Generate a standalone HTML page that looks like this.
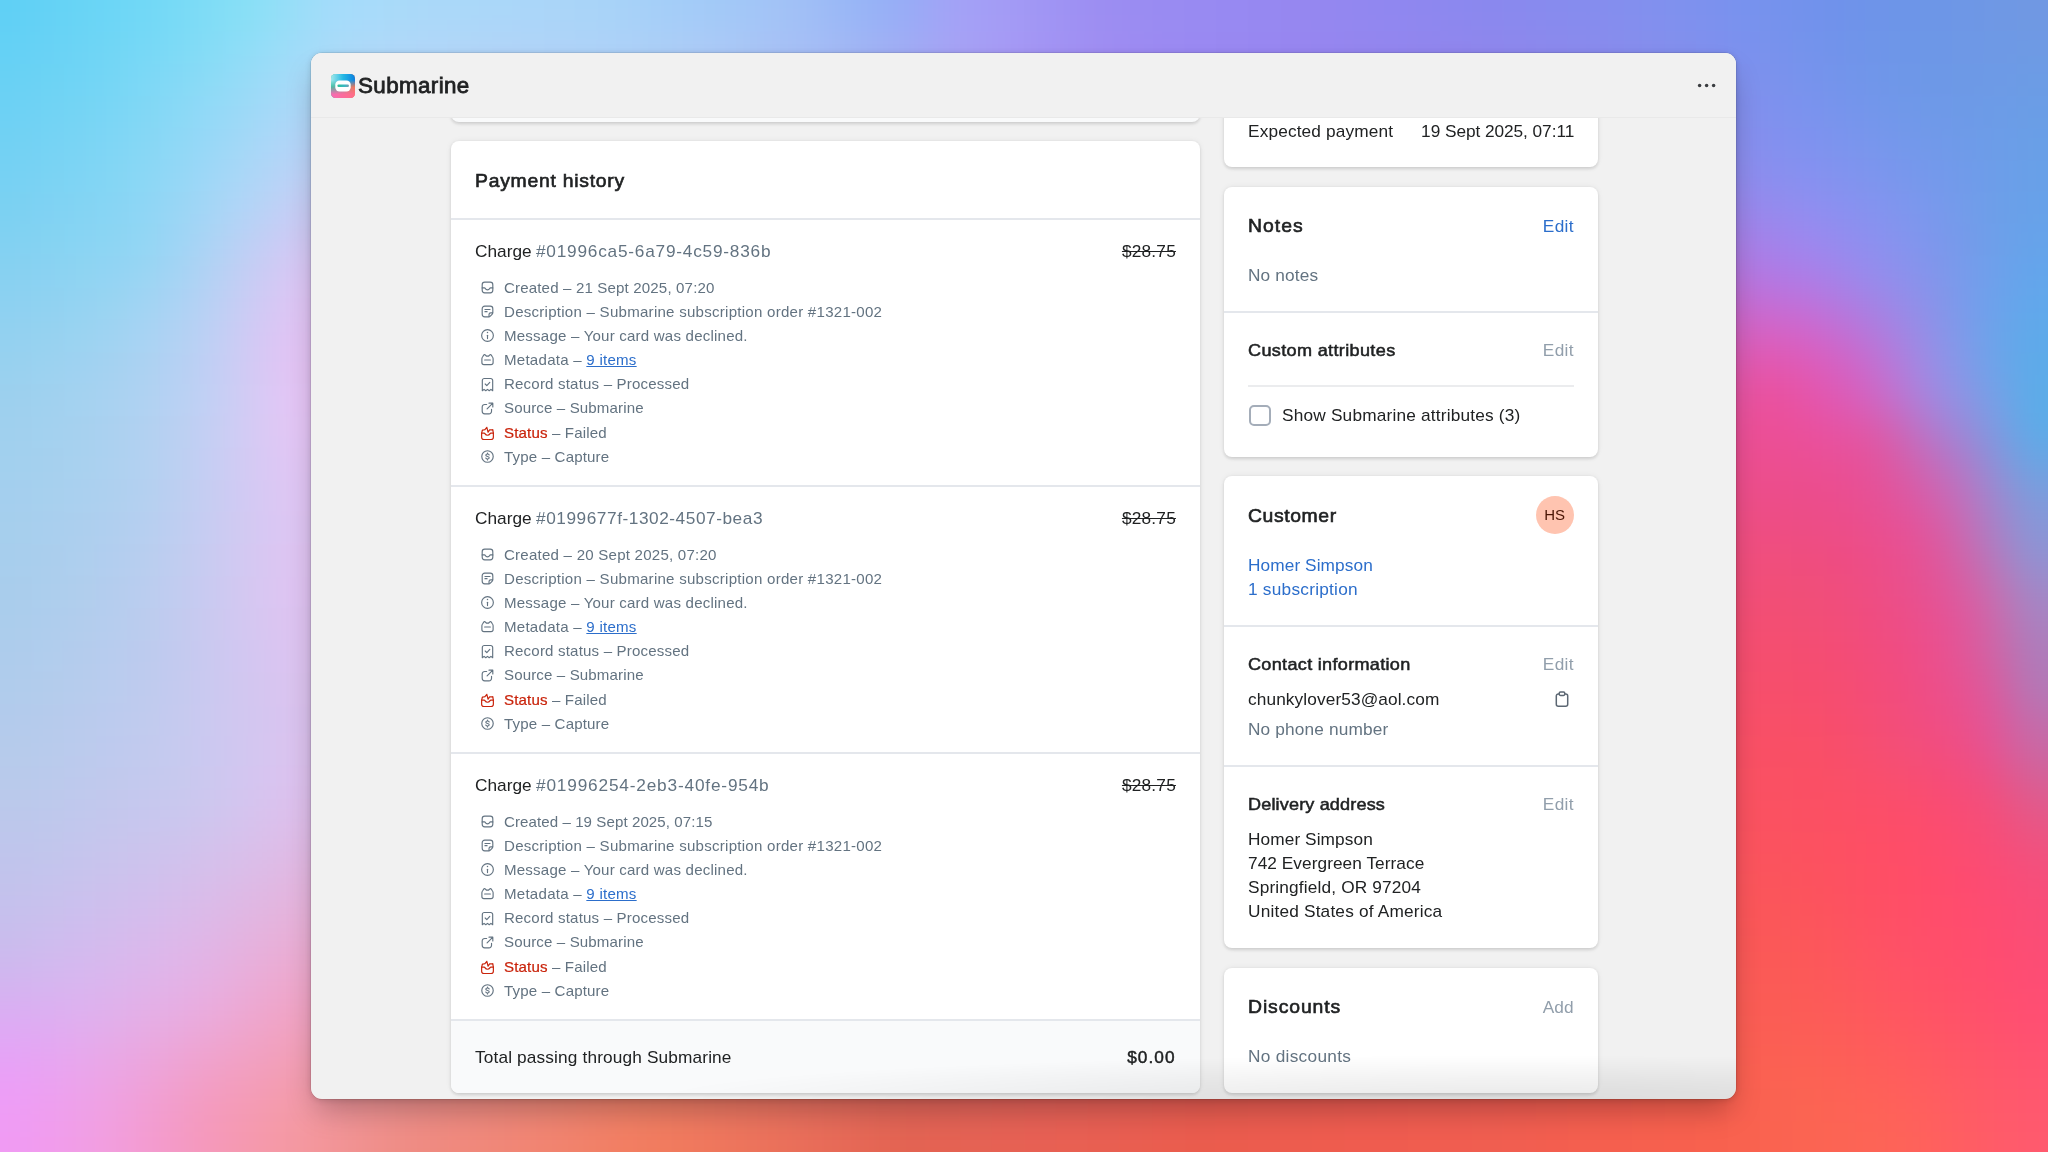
<!DOCTYPE html>
<html><head><meta charset="utf-8"><title>Submarine</title>
<style>
html,body{margin:0;padding:0;width:2048px;height:1152px;overflow:hidden;background:#c9b8e8;font-family:"Liberation Sans",sans-serif;}
#bg{position:absolute;left:0;top:0;width:2048px;height:1152px;overflow:hidden;}
#win{position:absolute;left:311px;top:53px;width:1425px;height:1045.5px;border-radius:11px;background:#f1f1f1;overflow:hidden;}
#winsh{position:absolute;left:311px;top:53px;width:1425px;height:1045.5px;border-radius:11px;box-shadow:0 0 0 0.5px rgba(0,0,0,.14),0 16px 30px -6px rgba(0,0,0,.27),0 1px 6px rgba(0,0,0,.14);}
#hdr{will-change:transform;position:absolute;left:0;top:0;width:100%;height:65px;background:#f1f1f1;border-bottom:1px solid #e9e9e9;box-sizing:border-box;z-index:5;}
#content{will-change:transform;position:absolute;left:0;top:65px;width:100%;height:980.5px;overflow:hidden;}
#fade{position:absolute;left:0;bottom:0;width:100%;height:46px;background:radial-gradient(ellipse 860px 44px at 84% 100%,rgba(0,0,0,.085),rgba(0,0,0,.05) 45%,rgba(0,0,0,0) 100%);z-index:6;pointer-events:none;}
.t{position:absolute;white-space:nowrap;}
.ic{position:absolute;display:block;overflow:visible;}
.hl{position:absolute;}
.card{position:absolute;background:#fff;border-radius:8px;box-shadow:0 0 6px rgba(23,24,24,.06),0 1.5px 3.5px rgba(0,0,0,.13);}
.foot{position:absolute;background:#f9fafb;border-radius:0 0 8px 8px;}
.cb{position:absolute;width:21.2px;height:21.2px;box-sizing:border-box;border:2.1px solid #a4adb9;border-radius:5px;background:#fff;}
.av{position:absolute;width:38px;height:38px;border-radius:50%;background:#ffc4b0;color:#4a1504;font-size:15px;line-height:38px;text-align:center;}
#logo{position:absolute;left:19.90px;top:20.70px;width:24px;height:24px;}
#dots{position:absolute;left:1386.00px;top:29.80px;}
</style></head>
<body>
<div id="bg"><svg width="2048" height="1152" viewBox="0 0 2048 1152" style="position:absolute;left:0;top:0"><defs><filter id="bgb" x="-5%" y="-5%" width="110%" height="110%" color-interpolation-filters="sRGB"><feGaussianBlur stdDeviation="18" edgeMode="duplicate"/></filter></defs><g filter="url(#bgb)"><rect x="-130" y="-130" width="2308" height="1412" fill="#d080c0"/><rect x="-120" y="-120" width="153" height="153" fill="#60d0f5"/><rect x="32" y="-120" width="33" height="153" fill="#64d2f5"/><rect x="64" y="-120" width="33" height="153" fill="#68d4f5"/><rect x="96" y="-120" width="33" height="153" fill="#6cd6f6"/><rect x="128" y="-120" width="33" height="153" fill="#71d8f6"/><rect x="160" y="-120" width="33" height="153" fill="#77daf6"/><rect x="192" y="-120" width="33" height="153" fill="#7fdcf6"/><rect x="224" y="-120" width="33" height="153" fill="#86dff6"/><rect x="256" y="-120" width="33" height="153" fill="#90dff7"/><rect x="288" y="-120" width="33" height="153" fill="#9cddf9"/><rect x="320" y="-120" width="33" height="153" fill="#a4dcfa"/><rect x="352" y="-120" width="33" height="153" fill="#a7dbfa"/><rect x="384" y="-120" width="33" height="153" fill="#a9daf9"/><rect x="416" y="-120" width="33" height="153" fill="#aad8f9"/><rect x="448" y="-120" width="33" height="153" fill="#aad8f9"/><rect x="480" y="-120" width="33" height="153" fill="#aad7f9"/><rect x="512" y="-120" width="33" height="153" fill="#aad6f9"/><rect x="544" y="-120" width="33" height="153" fill="#aad5f8"/><rect x="576" y="-120" width="33" height="153" fill="#a9d4f8"/><rect x="608" y="-120" width="33" height="153" fill="#a7d2f8"/><rect x="640" y="-120" width="33" height="153" fill="#a5cff8"/><rect x="672" y="-120" width="33" height="153" fill="#a3ccf8"/><rect x="704" y="-120" width="33" height="153" fill="#a2c9f7"/><rect x="736" y="-120" width="33" height="153" fill="#a2c6f7"/><rect x="768" y="-120" width="33" height="153" fill="#a2c2f6"/><rect x="800" y="-120" width="33" height="153" fill="#9fbdf6"/><rect x="832" y="-120" width="33" height="153" fill="#98b7f6"/><rect x="864" y="-120" width="33" height="153" fill="#97b1f6"/><rect x="896" y="-120" width="33" height="153" fill="#97abf6"/><rect x="928" y="-120" width="33" height="153" fill="#a2a4f6"/><rect x="960" y="-120" width="33" height="153" fill="#a49ff6"/><rect x="992" y="-120" width="33" height="153" fill="#a39bf5"/><rect x="1024" y="-120" width="33" height="153" fill="#a096f4"/><rect x="1056" y="-120" width="33" height="153" fill="#9e91f3"/><rect x="1088" y="-120" width="33" height="153" fill="#9c8df2"/><rect x="1120" y="-120" width="33" height="153" fill="#9a8cf2"/><rect x="1152" y="-120" width="33" height="153" fill="#998bf2"/><rect x="1184" y="-120" width="33" height="153" fill="#988af2"/><rect x="1216" y="-120" width="33" height="153" fill="#9789f2"/><rect x="1248" y="-120" width="33" height="153" fill="#9688f1"/><rect x="1280" y="-120" width="33" height="153" fill="#9687f0"/><rect x="1312" y="-120" width="33" height="153" fill="#9487f0"/><rect x="1344" y="-120" width="33" height="153" fill="#9287f0"/><rect x="1376" y="-120" width="33" height="153" fill="#9087f0"/><rect x="1408" y="-120" width="33" height="153" fill="#8e87ef"/><rect x="1440" y="-120" width="33" height="153" fill="#8c88ef"/><rect x="1472" y="-120" width="33" height="153" fill="#8a88ee"/><rect x="1504" y="-120" width="33" height="153" fill="#8989ee"/><rect x="1536" y="-120" width="33" height="153" fill="#878bee"/><rect x="1568" y="-120" width="33" height="153" fill="#868cee"/><rect x="1600" y="-120" width="33" height="153" fill="#848eee"/><rect x="1632" y="-120" width="33" height="153" fill="#8290ee"/><rect x="1664" y="-120" width="33" height="153" fill="#7f91ee"/><rect x="1696" y="-120" width="33" height="153" fill="#7c91ee"/><rect x="1728" y="-120" width="33" height="153" fill="#7892ee"/><rect x="1760" y="-120" width="33" height="153" fill="#7592ed"/><rect x="1792" y="-120" width="33" height="153" fill="#7292ec"/><rect x="1824" y="-120" width="33" height="153" fill="#6f92eb"/><rect x="1856" y="-120" width="33" height="153" fill="#6e94e9"/><rect x="1888" y="-120" width="33" height="153" fill="#6d95e8"/><rect x="1920" y="-120" width="33" height="153" fill="#6d96e7"/><rect x="1952" y="-120" width="33" height="153" fill="#6e97e6"/><rect x="1984" y="-120" width="33" height="153" fill="#6f98e4"/><rect x="2016" y="-120" width="152" height="153" fill="#7098e3"/><rect x="-120" y="32" width="153" height="33" fill="#64d1f5"/><rect x="32" y="32" width="33" height="33" fill="#68d2f5"/><rect x="64" y="32" width="33" height="33" fill="#6cd4f5"/><rect x="96" y="32" width="33" height="33" fill="#71d6f5"/><rect x="128" y="32" width="33" height="33" fill="#76d8f6"/><rect x="160" y="32" width="33" height="33" fill="#7ddaf6"/><rect x="192" y="32" width="33" height="33" fill="#85dcf6"/><rect x="224" y="32" width="33" height="33" fill="#8dddf7"/><rect x="256" y="32" width="33" height="33" fill="#98ddf8"/><rect x="288" y="32" width="33" height="33" fill="#a2dcf9"/><rect x="320" y="32" width="33" height="33" fill="#abdbf9"/><rect x="352" y="32" width="33" height="33" fill="#aed9f9"/><rect x="384" y="32" width="33" height="33" fill="#b0d8f9"/><rect x="416" y="32" width="33" height="33" fill="#b1d7f9"/><rect x="448" y="32" width="33" height="33" fill="#b1d6f8"/><rect x="480" y="32" width="33" height="33" fill="#b2d4f8"/><rect x="512" y="32" width="33" height="33" fill="#b0d4f8"/><rect x="544" y="32" width="33" height="33" fill="#afd3f8"/><rect x="576" y="32" width="33" height="33" fill="#aed3f8"/><rect x="608" y="32" width="33" height="33" fill="#add1f8"/><rect x="640" y="32" width="33" height="33" fill="#accff7"/><rect x="672" y="32" width="33" height="33" fill="#adcdf7"/><rect x="704" y="32" width="33" height="33" fill="#abcaf7"/><rect x="736" y="32" width="33" height="33" fill="#a9c5f6"/><rect x="768" y="32" width="33" height="33" fill="#a7c1f6"/><rect x="800" y="32" width="33" height="33" fill="#a5bdf6"/><rect x="832" y="32" width="33" height="33" fill="#a2b8f5"/><rect x="864" y="32" width="33" height="33" fill="#a0b1f5"/><rect x="896" y="32" width="33" height="33" fill="#a1abf5"/><rect x="928" y="32" width="33" height="33" fill="#a5a4f5"/><rect x="960" y="32" width="33" height="33" fill="#a79ff5"/><rect x="992" y="32" width="33" height="33" fill="#a69af5"/><rect x="1024" y="32" width="33" height="33" fill="#a395f4"/><rect x="1056" y="32" width="33" height="33" fill="#a191f3"/><rect x="1088" y="32" width="33" height="33" fill="#9f8df2"/><rect x="1120" y="32" width="33" height="33" fill="#9d8bf2"/><rect x="1152" y="32" width="33" height="33" fill="#9b8af2"/><rect x="1184" y="32" width="33" height="33" fill="#9a89f2"/><rect x="1216" y="32" width="33" height="33" fill="#9988f1"/><rect x="1248" y="32" width="33" height="33" fill="#9887f1"/><rect x="1280" y="32" width="33" height="33" fill="#9786f0"/><rect x="1312" y="32" width="33" height="33" fill="#9686f0"/><rect x="1344" y="32" width="33" height="33" fill="#9486ef"/><rect x="1376" y="32" width="33" height="33" fill="#9386ef"/><rect x="1408" y="32" width="33" height="33" fill="#9186ee"/><rect x="1440" y="32" width="33" height="33" fill="#9086ed"/><rect x="1472" y="32" width="33" height="33" fill="#8e87ed"/><rect x="1504" y="32" width="33" height="33" fill="#8d88ed"/><rect x="1536" y="32" width="33" height="33" fill="#8b89ed"/><rect x="1568" y="32" width="33" height="33" fill="#8a8aed"/><rect x="1600" y="32" width="33" height="33" fill="#878ced"/><rect x="1632" y="32" width="33" height="33" fill="#858eed"/><rect x="1664" y="32" width="33" height="33" fill="#828fed"/><rect x="1696" y="32" width="33" height="33" fill="#7f90ee"/><rect x="1728" y="32" width="33" height="33" fill="#7b91ee"/><rect x="1760" y="32" width="33" height="33" fill="#7892ed"/><rect x="1792" y="32" width="33" height="33" fill="#7493ec"/><rect x="1824" y="32" width="33" height="33" fill="#7193eb"/><rect x="1856" y="32" width="33" height="33" fill="#6f95e9"/><rect x="1888" y="32" width="33" height="33" fill="#6d96e8"/><rect x="1920" y="32" width="33" height="33" fill="#6d97e7"/><rect x="1952" y="32" width="33" height="33" fill="#6e98e6"/><rect x="1984" y="32" width="33" height="33" fill="#6e99e5"/><rect x="2016" y="32" width="152" height="33" fill="#6e9ae4"/><rect x="-120" y="64" width="153" height="33" fill="#69d1f4"/><rect x="32" y="64" width="33" height="33" fill="#6cd3f4"/><rect x="64" y="64" width="33" height="33" fill="#70d4f5"/><rect x="96" y="64" width="33" height="33" fill="#75d6f5"/><rect x="128" y="64" width="33" height="33" fill="#7cd8f6"/><rect x="160" y="64" width="33" height="33" fill="#83d9f6"/><rect x="192" y="64" width="33" height="33" fill="#8bdbf6"/><rect x="224" y="64" width="33" height="33" fill="#95dbf7"/><rect x="256" y="64" width="33" height="33" fill="#9fdbf8"/><rect x="288" y="64" width="33" height="33" fill="#a8daf8"/><rect x="320" y="64" width="33" height="33" fill="#afd8f9"/><rect x="352" y="64" width="33" height="33" fill="#b4d7f9"/><rect x="384" y="64" width="33" height="33" fill="#b6d6f9"/><rect x="416" y="64" width="33" height="33" fill="#b6d5f8"/><rect x="448" y="64" width="33" height="33" fill="#b7d4f8"/><rect x="480" y="64" width="33" height="33" fill="#b6d3f8"/><rect x="512" y="64" width="33" height="33" fill="#b5d2f8"/><rect x="544" y="64" width="33" height="33" fill="#b4d1f8"/><rect x="576" y="64" width="33" height="33" fill="#b2d1f7"/><rect x="608" y="64" width="33" height="33" fill="#b1cff7"/><rect x="640" y="64" width="33" height="33" fill="#b0cdf7"/><rect x="672" y="64" width="33" height="33" fill="#b0cbf7"/><rect x="704" y="64" width="33" height="33" fill="#afc8f7"/><rect x="736" y="64" width="33" height="33" fill="#adc4f6"/><rect x="768" y="64" width="33" height="33" fill="#abc0f6"/><rect x="800" y="64" width="33" height="33" fill="#a9bbf5"/><rect x="832" y="64" width="33" height="33" fill="#a7b6f5"/><rect x="864" y="64" width="33" height="33" fill="#a6b0f5"/><rect x="896" y="64" width="33" height="33" fill="#a6aaf5"/><rect x="928" y="64" width="33" height="33" fill="#a8a4f5"/><rect x="960" y="64" width="33" height="33" fill="#a89ff5"/><rect x="992" y="64" width="33" height="33" fill="#a89af4"/><rect x="1024" y="64" width="33" height="33" fill="#a695f4"/><rect x="1056" y="64" width="33" height="33" fill="#a391f3"/><rect x="1088" y="64" width="33" height="33" fill="#a18ef2"/><rect x="1120" y="64" width="33" height="33" fill="#9f8cf2"/><rect x="1152" y="64" width="33" height="33" fill="#9e8af2"/><rect x="1184" y="64" width="33" height="33" fill="#9c89f2"/><rect x="1216" y="64" width="33" height="33" fill="#9b88f1"/><rect x="1248" y="64" width="33" height="33" fill="#9a87f1"/><rect x="1280" y="64" width="33" height="33" fill="#9986f0"/><rect x="1312" y="64" width="33" height="33" fill="#9886ef"/><rect x="1344" y="64" width="33" height="33" fill="#9785ee"/><rect x="1376" y="64" width="33" height="33" fill="#9585ee"/><rect x="1408" y="64" width="33" height="33" fill="#9485ed"/><rect x="1440" y="64" width="33" height="33" fill="#9385ec"/><rect x="1472" y="64" width="33" height="33" fill="#9285eb"/><rect x="1504" y="64" width="33" height="33" fill="#9186eb"/><rect x="1536" y="64" width="33" height="33" fill="#8f87eb"/><rect x="1568" y="64" width="33" height="33" fill="#8e88eb"/><rect x="1600" y="64" width="33" height="33" fill="#8c8aeb"/><rect x="1632" y="64" width="33" height="33" fill="#898cec"/><rect x="1664" y="64" width="33" height="33" fill="#868ded"/><rect x="1696" y="64" width="33" height="33" fill="#828fed"/><rect x="1728" y="64" width="33" height="33" fill="#7e90ed"/><rect x="1760" y="64" width="33" height="33" fill="#7b92ed"/><rect x="1792" y="64" width="33" height="33" fill="#7793ed"/><rect x="1824" y="64" width="33" height="33" fill="#7394eb"/><rect x="1856" y="64" width="33" height="33" fill="#7096ea"/><rect x="1888" y="64" width="33" height="33" fill="#6e97e8"/><rect x="1920" y="64" width="33" height="33" fill="#6d98e7"/><rect x="1952" y="64" width="33" height="33" fill="#6d99e6"/><rect x="1984" y="64" width="33" height="33" fill="#6d9ae6"/><rect x="2016" y="64" width="152" height="33" fill="#6c9ce5"/><rect x="-120" y="96" width="153" height="33" fill="#6dd1f4"/><rect x="32" y="96" width="33" height="33" fill="#71d3f4"/><rect x="64" y="96" width="33" height="33" fill="#75d4f4"/><rect x="96" y="96" width="33" height="33" fill="#7ad6f5"/><rect x="128" y="96" width="33" height="33" fill="#81d7f5"/><rect x="160" y="96" width="33" height="33" fill="#89d9f6"/><rect x="192" y="96" width="33" height="33" fill="#92d9f7"/><rect x="224" y="96" width="33" height="33" fill="#9bd9f7"/><rect x="256" y="96" width="33" height="33" fill="#a5d9f8"/><rect x="288" y="96" width="33" height="33" fill="#aed7f8"/><rect x="320" y="96" width="33" height="33" fill="#b5d6f8"/><rect x="352" y="96" width="33" height="33" fill="#b9d4f8"/><rect x="384" y="96" width="33" height="33" fill="#bbd3f8"/><rect x="416" y="96" width="33" height="33" fill="#bcd2f8"/><rect x="448" y="96" width="33" height="33" fill="#bcd1f8"/><rect x="480" y="96" width="33" height="33" fill="#bbd1f8"/><rect x="512" y="96" width="33" height="33" fill="#b9d0f7"/><rect x="544" y="96" width="33" height="33" fill="#b7cff7"/><rect x="576" y="96" width="33" height="33" fill="#b5cef7"/><rect x="608" y="96" width="33" height="33" fill="#b4cdf7"/><rect x="640" y="96" width="33" height="33" fill="#b3cbf7"/><rect x="672" y="96" width="33" height="33" fill="#b2c9f7"/><rect x="704" y="96" width="33" height="33" fill="#b1c6f6"/><rect x="736" y="96" width="33" height="33" fill="#b0c2f6"/><rect x="768" y="96" width="33" height="33" fill="#aebef6"/><rect x="800" y="96" width="33" height="33" fill="#adb9f5"/><rect x="832" y="96" width="33" height="33" fill="#abb5f5"/><rect x="864" y="96" width="33" height="33" fill="#aaaff5"/><rect x="896" y="96" width="33" height="33" fill="#aaa9f5"/><rect x="928" y="96" width="33" height="33" fill="#aaa4f5"/><rect x="960" y="96" width="33" height="33" fill="#aa9ff4"/><rect x="992" y="96" width="33" height="33" fill="#a99af4"/><rect x="1024" y="96" width="33" height="33" fill="#a796f3"/><rect x="1056" y="96" width="33" height="33" fill="#a592f3"/><rect x="1088" y="96" width="33" height="33" fill="#a38ff3"/><rect x="1120" y="96" width="33" height="33" fill="#a18cf2"/><rect x="1152" y="96" width="33" height="33" fill="#a08bf2"/><rect x="1184" y="96" width="33" height="33" fill="#9e89f2"/><rect x="1216" y="96" width="33" height="33" fill="#9d88f1"/><rect x="1248" y="96" width="33" height="33" fill="#9b87f1"/><rect x="1280" y="96" width="33" height="33" fill="#9a86f0"/><rect x="1312" y="96" width="33" height="33" fill="#9a86ef"/><rect x="1344" y="96" width="33" height="33" fill="#9985ee"/><rect x="1376" y="96" width="33" height="33" fill="#9884ed"/><rect x="1408" y="96" width="33" height="33" fill="#9884eb"/><rect x="1440" y="96" width="33" height="33" fill="#9784ea"/><rect x="1472" y="96" width="33" height="33" fill="#9684ea"/><rect x="1504" y="96" width="33" height="33" fill="#9584e9"/><rect x="1536" y="96" width="33" height="33" fill="#9485e9"/><rect x="1568" y="96" width="33" height="33" fill="#9386e9"/><rect x="1600" y="96" width="33" height="33" fill="#9188e9"/><rect x="1632" y="96" width="33" height="33" fill="#8e89ea"/><rect x="1664" y="96" width="33" height="33" fill="#8a8beb"/><rect x="1696" y="96" width="33" height="33" fill="#868ded"/><rect x="1728" y="96" width="33" height="33" fill="#828fed"/><rect x="1760" y="96" width="33" height="33" fill="#7e91ee"/><rect x="1792" y="96" width="33" height="33" fill="#7b93ee"/><rect x="1824" y="96" width="33" height="33" fill="#7794ed"/><rect x="1856" y="96" width="33" height="33" fill="#7396eb"/><rect x="1888" y="96" width="33" height="33" fill="#7098e9"/><rect x="1920" y="96" width="33" height="33" fill="#6e99e8"/><rect x="1952" y="96" width="33" height="33" fill="#6d9ae7"/><rect x="1984" y="96" width="33" height="33" fill="#6c9ce7"/><rect x="2016" y="96" width="152" height="33" fill="#6a9de6"/><rect x="-120" y="128" width="153" height="33" fill="#72d1f3"/><rect x="32" y="128" width="33" height="33" fill="#75d3f4"/><rect x="64" y="128" width="33" height="33" fill="#7ad4f4"/><rect x="96" y="128" width="33" height="33" fill="#7fd6f5"/><rect x="128" y="128" width="33" height="33" fill="#86d7f5"/><rect x="160" y="128" width="33" height="33" fill="#8ed8f6"/><rect x="192" y="128" width="33" height="33" fill="#98d8f7"/><rect x="224" y="128" width="33" height="33" fill="#a2d8f7"/><rect x="256" y="128" width="33" height="33" fill="#acd7f8"/><rect x="288" y="128" width="33" height="33" fill="#b5d4f8"/><rect x="320" y="128" width="33" height="33" fill="#bcd3f8"/><rect x="352" y="128" width="33" height="33" fill="#c0d1f7"/><rect x="1664" y="128" width="33" height="33" fill="#9089ea"/><rect x="1696" y="128" width="33" height="33" fill="#8c8bec"/><rect x="1728" y="128" width="33" height="33" fill="#878eed"/><rect x="1760" y="128" width="33" height="33" fill="#8390ef"/><rect x="1792" y="128" width="33" height="33" fill="#7f92ef"/><rect x="1824" y="128" width="33" height="33" fill="#7c94ee"/><rect x="1856" y="128" width="33" height="33" fill="#7896ed"/><rect x="1888" y="128" width="33" height="33" fill="#7498eb"/><rect x="1920" y="128" width="33" height="33" fill="#7199ea"/><rect x="1952" y="128" width="33" height="33" fill="#6e9be9"/><rect x="1984" y="128" width="33" height="33" fill="#6c9de8"/><rect x="2016" y="128" width="152" height="33" fill="#699fe7"/><rect x="-120" y="160" width="153" height="33" fill="#76d1f3"/><rect x="32" y="160" width="33" height="33" fill="#7ad3f3"/><rect x="64" y="160" width="33" height="33" fill="#7ed4f4"/><rect x="96" y="160" width="33" height="33" fill="#83d6f4"/><rect x="128" y="160" width="33" height="33" fill="#8ad7f5"/><rect x="160" y="160" width="33" height="33" fill="#93d7f6"/><rect x="192" y="160" width="33" height="33" fill="#9ed7f7"/><rect x="224" y="160" width="33" height="33" fill="#a9d7f7"/><rect x="256" y="160" width="33" height="33" fill="#b4d5f7"/><rect x="288" y="160" width="33" height="33" fill="#bed1f7"/><rect x="320" y="160" width="33" height="33" fill="#c4cff6"/><rect x="352" y="160" width="33" height="33" fill="#c7cef6"/><rect x="1664" y="160" width="33" height="33" fill="#9785e7"/><rect x="1696" y="160" width="33" height="33" fill="#9388ea"/><rect x="1728" y="160" width="33" height="33" fill="#8d8ced"/><rect x="1760" y="160" width="33" height="33" fill="#898fef"/><rect x="1792" y="160" width="33" height="33" fill="#8691f0"/><rect x="1824" y="160" width="33" height="33" fill="#8293ef"/><rect x="1856" y="160" width="33" height="33" fill="#7d95ee"/><rect x="1888" y="160" width="33" height="33" fill="#7897ed"/><rect x="1920" y="160" width="33" height="33" fill="#7499eb"/><rect x="1952" y="160" width="33" height="33" fill="#709bea"/><rect x="1984" y="160" width="33" height="33" fill="#6c9ee9"/><rect x="2016" y="160" width="152" height="33" fill="#68a0e8"/><rect x="-120" y="192" width="153" height="33" fill="#7bd1f2"/><rect x="32" y="192" width="33" height="33" fill="#7fd2f3"/><rect x="64" y="192" width="33" height="33" fill="#83d4f3"/><rect x="96" y="192" width="33" height="33" fill="#87d5f4"/><rect x="128" y="192" width="33" height="33" fill="#8ed6f5"/><rect x="160" y="192" width="33" height="33" fill="#98d6f5"/><rect x="192" y="192" width="33" height="33" fill="#a4d6f6"/><rect x="224" y="192" width="33" height="33" fill="#b0d5f7"/><rect x="256" y="192" width="33" height="33" fill="#bcd2f6"/><rect x="288" y="192" width="33" height="33" fill="#c8ccf5"/><rect x="320" y="192" width="33" height="33" fill="#cccbf5"/><rect x="352" y="192" width="33" height="33" fill="#cecaf6"/><rect x="1664" y="192" width="33" height="33" fill="#a080e3"/><rect x="1696" y="192" width="33" height="33" fill="#9d83e6"/><rect x="1728" y="192" width="33" height="33" fill="#9887eb"/><rect x="1760" y="192" width="33" height="33" fill="#948bee"/><rect x="1792" y="192" width="33" height="33" fill="#908ef0"/><rect x="1824" y="192" width="33" height="33" fill="#8a90f0"/><rect x="1856" y="192" width="33" height="33" fill="#8493ef"/><rect x="1888" y="192" width="33" height="33" fill="#7e96ee"/><rect x="1920" y="192" width="33" height="33" fill="#7899ec"/><rect x="1952" y="192" width="33" height="33" fill="#729cea"/><rect x="1984" y="192" width="33" height="33" fill="#6c9fe9"/><rect x="2016" y="192" width="152" height="33" fill="#67a1e9"/><rect x="-120" y="224" width="153" height="33" fill="#81d1f2"/><rect x="32" y="224" width="33" height="33" fill="#84d3f2"/><rect x="64" y="224" width="33" height="33" fill="#88d4f3"/><rect x="96" y="224" width="33" height="33" fill="#8cd5f3"/><rect x="128" y="224" width="33" height="33" fill="#91d6f4"/><rect x="160" y="224" width="33" height="33" fill="#9dd5f5"/><rect x="192" y="224" width="33" height="33" fill="#aad4f5"/><rect x="224" y="224" width="33" height="33" fill="#b9d1f5"/><rect x="256" y="224" width="33" height="33" fill="#c6cdf5"/><rect x="288" y="224" width="33" height="33" fill="#d1c8f4"/><rect x="320" y="224" width="33" height="33" fill="#d5c7f4"/><rect x="352" y="224" width="33" height="33" fill="#d5c7f5"/><rect x="1664" y="224" width="33" height="33" fill="#ab7add"/><rect x="1696" y="224" width="33" height="33" fill="#a87de1"/><rect x="1728" y="224" width="33" height="33" fill="#a580e6"/><rect x="1760" y="224" width="33" height="33" fill="#a184ec"/><rect x="1792" y="224" width="33" height="33" fill="#9c88ef"/><rect x="1824" y="224" width="33" height="33" fill="#948cef"/><rect x="1856" y="224" width="33" height="33" fill="#8c90ef"/><rect x="1888" y="224" width="33" height="33" fill="#8494ee"/><rect x="1920" y="224" width="33" height="33" fill="#7c97ec"/><rect x="1952" y="224" width="33" height="33" fill="#749bea"/><rect x="1984" y="224" width="33" height="33" fill="#6ca0ea"/><rect x="2016" y="224" width="152" height="33" fill="#66a3ea"/><rect x="-120" y="256" width="153" height="33" fill="#87d1f1"/><rect x="32" y="256" width="33" height="33" fill="#8ad2f2"/><rect x="64" y="256" width="33" height="33" fill="#8ed4f2"/><rect x="96" y="256" width="33" height="33" fill="#92d4f3"/><rect x="128" y="256" width="33" height="33" fill="#98d5f3"/><rect x="160" y="256" width="33" height="33" fill="#a3d4f4"/><rect x="192" y="256" width="33" height="33" fill="#b2d2f4"/><rect x="224" y="256" width="33" height="33" fill="#c1cff4"/><rect x="256" y="256" width="33" height="33" fill="#cfcaf4"/><rect x="288" y="256" width="33" height="33" fill="#dbc6f4"/><rect x="320" y="256" width="33" height="33" fill="#ddc5f4"/><rect x="352" y="256" width="33" height="33" fill="#dcc5f5"/><rect x="1664" y="256" width="33" height="33" fill="#b773d5"/><rect x="1696" y="256" width="33" height="33" fill="#b675d9"/><rect x="1728" y="256" width="33" height="33" fill="#b377df"/><rect x="1760" y="256" width="33" height="33" fill="#ae7be7"/><rect x="1792" y="256" width="33" height="33" fill="#aa7fe9"/><rect x="1824" y="256" width="33" height="33" fill="#a185eb"/><rect x="1856" y="256" width="33" height="33" fill="#948dee"/><rect x="1888" y="256" width="33" height="33" fill="#8b91ed"/><rect x="1920" y="256" width="33" height="33" fill="#8196eb"/><rect x="1952" y="256" width="33" height="33" fill="#769ceb"/><rect x="1984" y="256" width="33" height="33" fill="#6ca1eb"/><rect x="2016" y="256" width="152" height="33" fill="#63a5eb"/><rect x="-120" y="288" width="153" height="33" fill="#8dd1f1"/><rect x="32" y="288" width="33" height="33" fill="#90d2f1"/><rect x="64" y="288" width="33" height="33" fill="#94d3f2"/><rect x="96" y="288" width="33" height="33" fill="#99d4f2"/><rect x="128" y="288" width="33" height="33" fill="#a1d4f3"/><rect x="160" y="288" width="33" height="33" fill="#abd3f4"/><rect x="192" y="288" width="33" height="33" fill="#b8d1f4"/><rect x="224" y="288" width="33" height="33" fill="#c7cdf4"/><rect x="256" y="288" width="33" height="33" fill="#d5c8f4"/><rect x="288" y="288" width="33" height="33" fill="#e0c4f4"/><rect x="320" y="288" width="33" height="33" fill="#e2c3f4"/><rect x="352" y="288" width="33" height="33" fill="#e0c3f5"/><rect x="1664" y="288" width="33" height="33" fill="#c36cca"/><rect x="1696" y="288" width="33" height="33" fill="#c46ccd"/><rect x="1728" y="288" width="33" height="33" fill="#c46cd1"/><rect x="1760" y="288" width="33" height="33" fill="#c36ed7"/><rect x="1792" y="288" width="33" height="33" fill="#be72db"/><rect x="1824" y="288" width="33" height="33" fill="#b27ae0"/><rect x="1856" y="288" width="33" height="33" fill="#a483e5"/><rect x="1888" y="288" width="33" height="33" fill="#968ce9"/><rect x="1920" y="288" width="33" height="33" fill="#8794ea"/><rect x="1952" y="288" width="33" height="33" fill="#779ceb"/><rect x="1984" y="288" width="33" height="33" fill="#6aa3eb"/><rect x="2016" y="288" width="152" height="33" fill="#61a8eb"/><rect x="-120" y="320" width="153" height="33" fill="#93d1f0"/><rect x="32" y="320" width="33" height="33" fill="#96d2f0"/><rect x="64" y="320" width="33" height="33" fill="#9ad3f1"/><rect x="96" y="320" width="33" height="33" fill="#a0d3f2"/><rect x="128" y="320" width="33" height="33" fill="#a7d3f3"/><rect x="160" y="320" width="33" height="33" fill="#b1d2f3"/><rect x="192" y="320" width="33" height="33" fill="#bdd0f4"/><rect x="224" y="320" width="33" height="33" fill="#ccccf4"/><rect x="256" y="320" width="33" height="33" fill="#dac6f4"/><rect x="288" y="320" width="33" height="33" fill="#e3c3f4"/><rect x="320" y="320" width="33" height="33" fill="#e5c2f4"/><rect x="352" y="320" width="33" height="33" fill="#e4c2f5"/><rect x="1664" y="320" width="33" height="33" fill="#ce64be"/><rect x="1696" y="320" width="33" height="33" fill="#d163be"/><rect x="1728" y="320" width="33" height="33" fill="#d561bf"/><rect x="1760" y="320" width="33" height="33" fill="#d861c2"/><rect x="1792" y="320" width="33" height="33" fill="#d364c9"/><rect x="1824" y="320" width="33" height="33" fill="#c66cd1"/><rect x="1856" y="320" width="33" height="33" fill="#b677da"/><rect x="1888" y="320" width="33" height="33" fill="#a385e3"/><rect x="1920" y="320" width="33" height="33" fill="#8e92e8"/><rect x="1952" y="320" width="33" height="33" fill="#7a9cea"/><rect x="1984" y="320" width="33" height="33" fill="#69a5ea"/><rect x="2016" y="320" width="152" height="33" fill="#5eaaea"/><rect x="-120" y="352" width="153" height="33" fill="#98d1ef"/><rect x="32" y="352" width="33" height="33" fill="#9cd2f0"/><rect x="64" y="352" width="33" height="33" fill="#9fd2f1"/><rect x="96" y="352" width="33" height="33" fill="#a5d2f1"/><rect x="128" y="352" width="33" height="33" fill="#acd2f2"/><rect x="160" y="352" width="33" height="33" fill="#b5d1f3"/><rect x="192" y="352" width="33" height="33" fill="#c0cff4"/><rect x="224" y="352" width="33" height="33" fill="#ceccf4"/><rect x="256" y="352" width="33" height="33" fill="#dcc6f4"/><rect x="288" y="352" width="33" height="33" fill="#e5c3f4"/><rect x="320" y="352" width="33" height="33" fill="#e7c2f5"/><rect x="352" y="352" width="33" height="33" fill="#e6c1f5"/><rect x="1664" y="352" width="33" height="33" fill="#d85eb2"/><rect x="1696" y="352" width="33" height="33" fill="#dc5bb0"/><rect x="1728" y="352" width="33" height="33" fill="#e158ad"/><rect x="1760" y="352" width="33" height="33" fill="#e456ad"/><rect x="1792" y="352" width="33" height="33" fill="#df5ab6"/><rect x="1824" y="352" width="33" height="33" fill="#d760c1"/><rect x="1856" y="352" width="33" height="33" fill="#c76cce"/><rect x="1888" y="352" width="33" height="33" fill="#b07fdd"/><rect x="1920" y="352" width="33" height="33" fill="#978fe7"/><rect x="1952" y="352" width="33" height="33" fill="#7f9be8"/><rect x="1984" y="352" width="33" height="33" fill="#6aa5e9"/><rect x="2016" y="352" width="152" height="33" fill="#5dabe9"/><rect x="-120" y="384" width="153" height="33" fill="#9dd0ee"/><rect x="32" y="384" width="33" height="33" fill="#a0d1ef"/><rect x="64" y="384" width="33" height="33" fill="#a4d2f0"/><rect x="96" y="384" width="33" height="33" fill="#a9d2f1"/><rect x="128" y="384" width="33" height="33" fill="#afd2f2"/><rect x="160" y="384" width="33" height="33" fill="#b8d1f3"/><rect x="192" y="384" width="33" height="33" fill="#c1d0f4"/><rect x="224" y="384" width="33" height="33" fill="#cfccf4"/><rect x="256" y="384" width="33" height="33" fill="#ddc8f5"/><rect x="288" y="384" width="33" height="33" fill="#e6c4f5"/><rect x="320" y="384" width="33" height="33" fill="#e8c2f5"/><rect x="352" y="384" width="33" height="33" fill="#e7c1f5"/><rect x="1664" y="384" width="33" height="33" fill="#df59a7"/><rect x="1696" y="384" width="33" height="33" fill="#e356a3"/><rect x="1728" y="384" width="33" height="33" fill="#e8529f"/><rect x="1760" y="384" width="33" height="33" fill="#eb509c"/><rect x="1792" y="384" width="33" height="33" fill="#e654a9"/><rect x="1824" y="384" width="33" height="33" fill="#df59b4"/><rect x="1856" y="384" width="33" height="33" fill="#d264c1"/><rect x="1888" y="384" width="33" height="33" fill="#bb76d1"/><rect x="1920" y="384" width="33" height="33" fill="#a089e0"/><rect x="1952" y="384" width="33" height="33" fill="#8a95e4"/><rect x="1984" y="384" width="33" height="33" fill="#72a2e7"/><rect x="2016" y="384" width="152" height="33" fill="#5bade8"/><rect x="-120" y="416" width="153" height="33" fill="#a0d0ee"/><rect x="32" y="416" width="33" height="33" fill="#a3d1ef"/><rect x="64" y="416" width="33" height="33" fill="#a6d1ef"/><rect x="96" y="416" width="33" height="33" fill="#abd1f0"/><rect x="128" y="416" width="33" height="33" fill="#b1d1f1"/><rect x="160" y="416" width="33" height="33" fill="#bad0f2"/><rect x="192" y="416" width="33" height="33" fill="#c4cff3"/><rect x="224" y="416" width="33" height="33" fill="#d0ccf4"/><rect x="256" y="416" width="33" height="33" fill="#ddc8f4"/><rect x="288" y="416" width="33" height="33" fill="#e5c5f5"/><rect x="320" y="416" width="33" height="33" fill="#e7c3f4"/><rect x="352" y="416" width="33" height="33" fill="#e7c1f4"/><rect x="1664" y="416" width="33" height="33" fill="#e4559e"/><rect x="1696" y="416" width="33" height="33" fill="#e8529a"/><rect x="1728" y="416" width="33" height="33" fill="#eb5097"/><rect x="1760" y="416" width="33" height="33" fill="#ec4e97"/><rect x="1792" y="416" width="33" height="33" fill="#ea509d"/><rect x="1824" y="416" width="33" height="33" fill="#e653a3"/><rect x="1856" y="416" width="33" height="33" fill="#df58a7"/><rect x="1888" y="416" width="33" height="33" fill="#ca68ba"/><rect x="1920" y="416" width="33" height="33" fill="#b07bcf"/><rect x="1952" y="416" width="33" height="33" fill="#978bd9"/><rect x="1984" y="416" width="33" height="33" fill="#799ce2"/><rect x="2016" y="416" width="152" height="33" fill="#5eabe8"/><rect x="-120" y="448" width="153" height="33" fill="#a2d0ee"/><rect x="32" y="448" width="33" height="33" fill="#a5d0ee"/><rect x="64" y="448" width="33" height="33" fill="#a8d1ef"/><rect x="96" y="448" width="33" height="33" fill="#add1f0"/><rect x="128" y="448" width="33" height="33" fill="#b3d1f1"/><rect x="160" y="448" width="33" height="33" fill="#bbd0f2"/><rect x="192" y="448" width="33" height="33" fill="#c5cef3"/><rect x="224" y="448" width="33" height="33" fill="#d1cbf3"/><rect x="256" y="448" width="33" height="33" fill="#dbc8f4"/><rect x="288" y="448" width="33" height="33" fill="#e2c5f4"/><rect x="320" y="448" width="33" height="33" fill="#e6c3f4"/><rect x="352" y="448" width="33" height="33" fill="#e6c1f4"/><rect x="1664" y="448" width="33" height="33" fill="#e85396"/><rect x="1696" y="448" width="33" height="33" fill="#eb5092"/><rect x="1728" y="448" width="33" height="33" fill="#ec4e90"/><rect x="1760" y="448" width="33" height="33" fill="#ec4e90"/><rect x="1792" y="448" width="33" height="33" fill="#eb4e93"/><rect x="1824" y="448" width="33" height="33" fill="#ea4f96"/><rect x="1856" y="448" width="33" height="33" fill="#e4529b"/><rect x="1888" y="448" width="33" height="33" fill="#d65eaa"/><rect x="1920" y="448" width="33" height="33" fill="#c36dbc"/><rect x="1952" y="448" width="33" height="33" fill="#aa7ecc"/><rect x="1984" y="448" width="33" height="33" fill="#8894da"/><rect x="2016" y="448" width="152" height="33" fill="#6aa5e3"/><rect x="-120" y="480" width="153" height="33" fill="#a4cfee"/><rect x="32" y="480" width="33" height="33" fill="#a7d0ee"/><rect x="64" y="480" width="33" height="33" fill="#aad0ef"/><rect x="96" y="480" width="33" height="33" fill="#aed0ef"/><rect x="128" y="480" width="33" height="33" fill="#b3d0f0"/><rect x="160" y="480" width="33" height="33" fill="#bccff1"/><rect x="192" y="480" width="33" height="33" fill="#c6cdf2"/><rect x="224" y="480" width="33" height="33" fill="#d0caf3"/><rect x="256" y="480" width="33" height="33" fill="#dac8f3"/><rect x="288" y="480" width="33" height="33" fill="#e0c5f4"/><rect x="320" y="480" width="33" height="33" fill="#e4c3f3"/><rect x="352" y="480" width="33" height="33" fill="#e5c1f3"/><rect x="1664" y="480" width="33" height="33" fill="#eb528e"/><rect x="1696" y="480" width="33" height="33" fill="#ec4f8b"/><rect x="1728" y="480" width="33" height="33" fill="#ed4e8a"/><rect x="1760" y="480" width="33" height="33" fill="#ec4d8a"/><rect x="1792" y="480" width="33" height="33" fill="#eb4d8b"/><rect x="1824" y="480" width="33" height="33" fill="#eb4d8f"/><rect x="1856" y="480" width="33" height="33" fill="#e75095"/><rect x="1888" y="480" width="33" height="33" fill="#de57a1"/><rect x="1920" y="480" width="33" height="33" fill="#d162af"/><rect x="1952" y="480" width="33" height="33" fill="#ba75c1"/><rect x="1984" y="480" width="33" height="33" fill="#998bd1"/><rect x="2016" y="480" width="152" height="33" fill="#7d9cdc"/><rect x="-120" y="512" width="153" height="33" fill="#a6cfed"/><rect x="32" y="512" width="33" height="33" fill="#a9cfee"/><rect x="64" y="512" width="33" height="33" fill="#accfee"/><rect x="96" y="512" width="33" height="33" fill="#b0cfef"/><rect x="128" y="512" width="33" height="33" fill="#b6cff0"/><rect x="160" y="512" width="33" height="33" fill="#becef1"/><rect x="192" y="512" width="33" height="33" fill="#c7ccf2"/><rect x="224" y="512" width="33" height="33" fill="#d1caf2"/><rect x="256" y="512" width="33" height="33" fill="#d9c7f3"/><rect x="288" y="512" width="33" height="33" fill="#dfc5f3"/><rect x="320" y="512" width="33" height="33" fill="#e3c3f3"/><rect x="352" y="512" width="33" height="33" fill="#e5c1f2"/><rect x="1664" y="512" width="33" height="33" fill="#ed5188"/><rect x="1696" y="512" width="33" height="33" fill="#ee4f85"/><rect x="1728" y="512" width="33" height="33" fill="#ee4e83"/><rect x="1760" y="512" width="33" height="33" fill="#ee4d83"/><rect x="1792" y="512" width="33" height="33" fill="#ed4d85"/><rect x="1824" y="512" width="33" height="33" fill="#ed4d88"/><rect x="1856" y="512" width="33" height="33" fill="#ea4e8e"/><rect x="1888" y="512" width="33" height="33" fill="#e65197"/><rect x="1920" y="512" width="33" height="33" fill="#db5aa3"/><rect x="1952" y="512" width="33" height="33" fill="#c36eb7"/><rect x="1984" y="512" width="33" height="33" fill="#a484c9"/><rect x="2016" y="512" width="152" height="33" fill="#8797d8"/><rect x="-120" y="544" width="153" height="33" fill="#a7ceed"/><rect x="32" y="544" width="33" height="33" fill="#aaceed"/><rect x="64" y="544" width="33" height="33" fill="#aecfee"/><rect x="96" y="544" width="33" height="33" fill="#b2ceef"/><rect x="128" y="544" width="33" height="33" fill="#b8ceef"/><rect x="160" y="544" width="33" height="33" fill="#c0cdf0"/><rect x="192" y="544" width="33" height="33" fill="#c8cbf1"/><rect x="224" y="544" width="33" height="33" fill="#d2c9f2"/><rect x="256" y="544" width="33" height="33" fill="#dac6f2"/><rect x="288" y="544" width="33" height="33" fill="#e0c4f2"/><rect x="320" y="544" width="33" height="33" fill="#e3c2f2"/><rect x="352" y="544" width="33" height="33" fill="#e4c0f1"/><rect x="1664" y="544" width="33" height="33" fill="#ef5082"/><rect x="1696" y="544" width="33" height="33" fill="#f04f7f"/><rect x="1728" y="544" width="33" height="33" fill="#f04e7d"/><rect x="1760" y="544" width="33" height="33" fill="#f04e7d"/><rect x="1792" y="544" width="33" height="33" fill="#ef4d7e"/><rect x="1824" y="544" width="33" height="33" fill="#ee4c82"/><rect x="1856" y="544" width="33" height="33" fill="#ed4d88"/><rect x="1888" y="544" width="33" height="33" fill="#e94f90"/><rect x="1920" y="544" width="33" height="33" fill="#e0569b"/><rect x="1952" y="544" width="33" height="33" fill="#cc67ad"/><rect x="1984" y="544" width="33" height="33" fill="#b07dc0"/><rect x="2016" y="544" width="152" height="33" fill="#9192d2"/><rect x="-120" y="576" width="153" height="33" fill="#a9cdec"/><rect x="32" y="576" width="33" height="33" fill="#acceed"/><rect x="64" y="576" width="33" height="33" fill="#b0ceed"/><rect x="96" y="576" width="33" height="33" fill="#b4cdee"/><rect x="128" y="576" width="33" height="33" fill="#bacdef"/><rect x="160" y="576" width="33" height="33" fill="#c1ccf0"/><rect x="192" y="576" width="33" height="33" fill="#c9caf1"/><rect x="224" y="576" width="33" height="33" fill="#d2c8f1"/><rect x="256" y="576" width="33" height="33" fill="#dbc6f2"/><rect x="288" y="576" width="33" height="33" fill="#e0c3f2"/><rect x="320" y="576" width="33" height="33" fill="#e3c2f1"/><rect x="352" y="576" width="33" height="33" fill="#e4c0f0"/><rect x="1664" y="576" width="33" height="33" fill="#f1507d"/><rect x="1696" y="576" width="33" height="33" fill="#f14f7a"/><rect x="1728" y="576" width="33" height="33" fill="#f14e78"/><rect x="1760" y="576" width="33" height="33" fill="#f14e77"/><rect x="1792" y="576" width="33" height="33" fill="#f04e78"/><rect x="1824" y="576" width="33" height="33" fill="#f04d7d"/><rect x="1856" y="576" width="33" height="33" fill="#ee4d83"/><rect x="1888" y="576" width="33" height="33" fill="#ea4f8b"/><rect x="1920" y="576" width="33" height="33" fill="#e45396"/><rect x="1952" y="576" width="33" height="33" fill="#d75fa4"/><rect x="1984" y="576" width="33" height="33" fill="#c173b4"/><rect x="2016" y="576" width="152" height="33" fill="#a188c7"/><rect x="-120" y="608" width="153" height="33" fill="#abcdec"/><rect x="32" y="608" width="33" height="33" fill="#aecded"/><rect x="64" y="608" width="33" height="33" fill="#b2cded"/><rect x="96" y="608" width="33" height="33" fill="#b6cdee"/><rect x="128" y="608" width="33" height="33" fill="#bbccee"/><rect x="160" y="608" width="33" height="33" fill="#c2cbef"/><rect x="192" y="608" width="33" height="33" fill="#cac9f0"/><rect x="224" y="608" width="33" height="33" fill="#d2c8f1"/><rect x="256" y="608" width="33" height="33" fill="#dac5f1"/><rect x="288" y="608" width="33" height="33" fill="#dfc3f1"/><rect x="320" y="608" width="33" height="33" fill="#e2c1f0"/><rect x="352" y="608" width="33" height="33" fill="#e3bfee"/><rect x="1664" y="608" width="33" height="33" fill="#f25078"/><rect x="1696" y="608" width="33" height="33" fill="#f34f75"/><rect x="1728" y="608" width="33" height="33" fill="#f34e73"/><rect x="1760" y="608" width="33" height="33" fill="#f34e73"/><rect x="1792" y="608" width="33" height="33" fill="#f24e75"/><rect x="1824" y="608" width="33" height="33" fill="#f24d79"/><rect x="1856" y="608" width="33" height="33" fill="#f04c7f"/><rect x="1888" y="608" width="33" height="33" fill="#ed4d87"/><rect x="1920" y="608" width="33" height="33" fill="#e95091"/><rect x="1952" y="608" width="33" height="33" fill="#de589e"/><rect x="1984" y="608" width="33" height="33" fill="#c76cae"/><rect x="2016" y="608" width="152" height="33" fill="#a982c0"/><rect x="-120" y="640" width="153" height="33" fill="#aeccec"/><rect x="32" y="640" width="33" height="33" fill="#b1cded"/><rect x="64" y="640" width="33" height="33" fill="#b4cced"/><rect x="96" y="640" width="33" height="33" fill="#b8ccee"/><rect x="128" y="640" width="33" height="33" fill="#bccbee"/><rect x="160" y="640" width="33" height="33" fill="#c2caef"/><rect x="192" y="640" width="33" height="33" fill="#cac9f0"/><rect x="224" y="640" width="33" height="33" fill="#d1c7f1"/><rect x="256" y="640" width="33" height="33" fill="#d8c5f1"/><rect x="288" y="640" width="33" height="33" fill="#ddc3f0"/><rect x="320" y="640" width="33" height="33" fill="#e0c1ef"/><rect x="352" y="640" width="33" height="33" fill="#e2beed"/><rect x="1664" y="640" width="33" height="33" fill="#f45073"/><rect x="1696" y="640" width="33" height="33" fill="#f54f71"/><rect x="1728" y="640" width="33" height="33" fill="#f54e6f"/><rect x="1760" y="640" width="33" height="33" fill="#f54e6f"/><rect x="1792" y="640" width="33" height="33" fill="#f44d71"/><rect x="1824" y="640" width="33" height="33" fill="#f44c75"/><rect x="1856" y="640" width="33" height="33" fill="#f24c7b"/><rect x="1888" y="640" width="33" height="33" fill="#f04c83"/><rect x="1920" y="640" width="33" height="33" fill="#eb4f8d"/><rect x="1952" y="640" width="33" height="33" fill="#e05799"/><rect x="1984" y="640" width="33" height="33" fill="#cb67a9"/><rect x="2016" y="640" width="152" height="33" fill="#af7bba"/><rect x="-120" y="672" width="153" height="33" fill="#b0ccec"/><rect x="32" y="672" width="33" height="33" fill="#b3ccec"/><rect x="64" y="672" width="33" height="33" fill="#b6cced"/><rect x="96" y="672" width="33" height="33" fill="#baccee"/><rect x="128" y="672" width="33" height="33" fill="#becbee"/><rect x="160" y="672" width="33" height="33" fill="#c4caef"/><rect x="192" y="672" width="33" height="33" fill="#cac9f0"/><rect x="224" y="672" width="33" height="33" fill="#d1c7f0"/><rect x="256" y="672" width="33" height="33" fill="#d7c5f0"/><rect x="288" y="672" width="33" height="33" fill="#dcc3ef"/><rect x="320" y="672" width="33" height="33" fill="#dfc0ee"/><rect x="352" y="672" width="33" height="33" fill="#e2bdeb"/><rect x="1664" y="672" width="33" height="33" fill="#f5506f"/><rect x="1696" y="672" width="33" height="33" fill="#f64f6d"/><rect x="1728" y="672" width="33" height="33" fill="#f64f6c"/><rect x="1760" y="672" width="33" height="33" fill="#f64e6c"/><rect x="1792" y="672" width="33" height="33" fill="#f64d6e"/><rect x="1824" y="672" width="33" height="33" fill="#f54d72"/><rect x="1856" y="672" width="33" height="33" fill="#f44c78"/><rect x="1888" y="672" width="33" height="33" fill="#f14c80"/><rect x="1920" y="672" width="33" height="33" fill="#ed4e89"/><rect x="1952" y="672" width="33" height="33" fill="#e65294"/><rect x="1984" y="672" width="33" height="33" fill="#d45fa2"/><rect x="2016" y="672" width="152" height="33" fill="#b279b7"/><rect x="-120" y="704" width="153" height="33" fill="#b3cbec"/><rect x="32" y="704" width="33" height="33" fill="#b6cbec"/><rect x="64" y="704" width="33" height="33" fill="#b9cbed"/><rect x="96" y="704" width="33" height="33" fill="#bccbee"/><rect x="128" y="704" width="33" height="33" fill="#c0cbee"/><rect x="160" y="704" width="33" height="33" fill="#c5caef"/><rect x="192" y="704" width="33" height="33" fill="#cbc9f0"/><rect x="224" y="704" width="33" height="33" fill="#d1c7f0"/><rect x="256" y="704" width="33" height="33" fill="#d6c5f0"/><rect x="288" y="704" width="33" height="33" fill="#dbc2ef"/><rect x="320" y="704" width="33" height="33" fill="#dfbfec"/><rect x="352" y="704" width="33" height="33" fill="#e1bce9"/><rect x="1664" y="704" width="33" height="33" fill="#f7516b"/><rect x="1696" y="704" width="33" height="33" fill="#f75069"/><rect x="1728" y="704" width="33" height="33" fill="#f84f68"/><rect x="1760" y="704" width="33" height="33" fill="#f84f68"/><rect x="1792" y="704" width="33" height="33" fill="#f84e6a"/><rect x="1824" y="704" width="33" height="33" fill="#f74d6e"/><rect x="1856" y="704" width="33" height="33" fill="#f54d74"/><rect x="1888" y="704" width="33" height="33" fill="#f24d7c"/><rect x="1920" y="704" width="33" height="33" fill="#f04d84"/><rect x="1952" y="704" width="33" height="33" fill="#ea508e"/><rect x="1984" y="704" width="33" height="33" fill="#db5a9d"/><rect x="2016" y="704" width="152" height="33" fill="#c16ead"/><rect x="-120" y="736" width="153" height="33" fill="#b6cbeb"/><rect x="32" y="736" width="33" height="33" fill="#b8cbec"/><rect x="64" y="736" width="33" height="33" fill="#bbcbed"/><rect x="96" y="736" width="33" height="33" fill="#becaee"/><rect x="128" y="736" width="33" height="33" fill="#c2caee"/><rect x="160" y="736" width="33" height="33" fill="#c6caef"/><rect x="192" y="736" width="33" height="33" fill="#cbc8f0"/><rect x="224" y="736" width="33" height="33" fill="#d1c7f0"/><rect x="256" y="736" width="33" height="33" fill="#d7c5f0"/><rect x="288" y="736" width="33" height="33" fill="#dcc2ee"/><rect x="320" y="736" width="33" height="33" fill="#dfbeeb"/><rect x="352" y="736" width="33" height="33" fill="#e2bbe7"/><rect x="1664" y="736" width="33" height="33" fill="#f85167"/><rect x="1696" y="736" width="33" height="33" fill="#f85166"/><rect x="1728" y="736" width="33" height="33" fill="#f95065"/><rect x="1760" y="736" width="33" height="33" fill="#f94f64"/><rect x="1792" y="736" width="33" height="33" fill="#f94f66"/><rect x="1824" y="736" width="33" height="33" fill="#f84e6a"/><rect x="1856" y="736" width="33" height="33" fill="#f64e70"/><rect x="1888" y="736" width="33" height="33" fill="#f34e78"/><rect x="1920" y="736" width="33" height="33" fill="#f34d7d"/><rect x="1952" y="736" width="33" height="33" fill="#ee4e86"/><rect x="1984" y="736" width="33" height="33" fill="#e15696"/><rect x="2016" y="736" width="152" height="33" fill="#ca68a3"/><rect x="-120" y="768" width="153" height="33" fill="#b9caeb"/><rect x="32" y="768" width="33" height="33" fill="#bbcaec"/><rect x="64" y="768" width="33" height="33" fill="#bec9ed"/><rect x="96" y="768" width="33" height="33" fill="#c1c9ed"/><rect x="128" y="768" width="33" height="33" fill="#c4c9ee"/><rect x="160" y="768" width="33" height="33" fill="#c7c9ee"/><rect x="192" y="768" width="33" height="33" fill="#ccc8ef"/><rect x="224" y="768" width="33" height="33" fill="#d2c6f0"/><rect x="256" y="768" width="33" height="33" fill="#d8c4f0"/><rect x="288" y="768" width="33" height="33" fill="#ddc1ee"/><rect x="320" y="768" width="33" height="33" fill="#e0bde9"/><rect x="352" y="768" width="33" height="33" fill="#e2b9e4"/><rect x="1664" y="768" width="33" height="33" fill="#f85264"/><rect x="1696" y="768" width="33" height="33" fill="#f95263"/><rect x="1728" y="768" width="33" height="33" fill="#fa5162"/><rect x="1760" y="768" width="33" height="33" fill="#fa5063"/><rect x="1792" y="768" width="33" height="33" fill="#fa4f64"/><rect x="1824" y="768" width="33" height="33" fill="#fa4f67"/><rect x="1856" y="768" width="33" height="33" fill="#fa4e6b"/><rect x="1888" y="768" width="33" height="33" fill="#f94e6f"/><rect x="1920" y="768" width="33" height="33" fill="#f74c75"/><rect x="1952" y="768" width="33" height="33" fill="#f44c7c"/><rect x="1984" y="768" width="33" height="33" fill="#eb5285"/><rect x="2016" y="768" width="152" height="33" fill="#d85f95"/><rect x="-120" y="800" width="153" height="33" fill="#bcc8eb"/><rect x="32" y="800" width="33" height="33" fill="#bec8ec"/><rect x="64" y="800" width="33" height="33" fill="#c1c8ed"/><rect x="96" y="800" width="33" height="33" fill="#c4c7ed"/><rect x="128" y="800" width="33" height="33" fill="#c7c7ee"/><rect x="160" y="800" width="33" height="33" fill="#cac7ee"/><rect x="192" y="800" width="33" height="33" fill="#cec6ee"/><rect x="224" y="800" width="33" height="33" fill="#d4c4ee"/><rect x="256" y="800" width="33" height="33" fill="#dac1ed"/><rect x="288" y="800" width="33" height="33" fill="#debeeb"/><rect x="320" y="800" width="33" height="33" fill="#e1bae5"/><rect x="352" y="800" width="33" height="33" fill="#e4b7df"/><rect x="1664" y="800" width="33" height="33" fill="#f95361"/><rect x="1696" y="800" width="33" height="33" fill="#fa5361"/><rect x="1728" y="800" width="33" height="33" fill="#fa5260"/><rect x="1760" y="800" width="33" height="33" fill="#fb5161"/><rect x="1792" y="800" width="33" height="33" fill="#fb5063"/><rect x="1824" y="800" width="33" height="33" fill="#fc4f64"/><rect x="1856" y="800" width="33" height="33" fill="#fc4e67"/><rect x="1888" y="800" width="33" height="33" fill="#fd4d6a"/><rect x="1920" y="800" width="33" height="33" fill="#fb4c70"/><rect x="1952" y="800" width="33" height="33" fill="#f84c75"/><rect x="1984" y="800" width="33" height="33" fill="#f24f7c"/><rect x="2016" y="800" width="152" height="33" fill="#e55888"/><rect x="-120" y="832" width="153" height="33" fill="#bfc5ec"/><rect x="32" y="832" width="33" height="33" fill="#c1c6ec"/><rect x="64" y="832" width="33" height="33" fill="#c4c5ed"/><rect x="96" y="832" width="33" height="33" fill="#c8c5ed"/><rect x="128" y="832" width="33" height="33" fill="#cbc4ed"/><rect x="160" y="832" width="33" height="33" fill="#cec3ed"/><rect x="192" y="832" width="33" height="33" fill="#d3c2ec"/><rect x="224" y="832" width="33" height="33" fill="#d7c0eb"/><rect x="256" y="832" width="33" height="33" fill="#dcbee9"/><rect x="288" y="832" width="33" height="33" fill="#e0bae5"/><rect x="320" y="832" width="33" height="33" fill="#e3b7e0"/><rect x="352" y="832" width="33" height="33" fill="#e5b3da"/><rect x="1664" y="832" width="33" height="33" fill="#f9545f"/><rect x="1696" y="832" width="33" height="33" fill="#fa545e"/><rect x="1728" y="832" width="33" height="33" fill="#fb535e"/><rect x="1760" y="832" width="33" height="33" fill="#fb525f"/><rect x="1792" y="832" width="33" height="33" fill="#fc5160"/><rect x="1824" y="832" width="33" height="33" fill="#fd5062"/><rect x="1856" y="832" width="33" height="33" fill="#fe4e65"/><rect x="1888" y="832" width="33" height="33" fill="#fe4d68"/><rect x="1920" y="832" width="33" height="33" fill="#fd4c6d"/><rect x="1952" y="832" width="33" height="33" fill="#fb4b72"/><rect x="1984" y="832" width="33" height="33" fill="#f74d78"/><rect x="2016" y="832" width="152" height="33" fill="#ef5280"/><rect x="-120" y="864" width="153" height="33" fill="#c2c3ec"/><rect x="32" y="864" width="33" height="33" fill="#c5c3ed"/><rect x="64" y="864" width="33" height="33" fill="#c8c3ed"/><rect x="96" y="864" width="33" height="33" fill="#ccc2ed"/><rect x="128" y="864" width="33" height="33" fill="#cfc1ed"/><rect x="160" y="864" width="33" height="33" fill="#d3c0ec"/><rect x="192" y="864" width="33" height="33" fill="#d7beea"/><rect x="224" y="864" width="33" height="33" fill="#dbbce8"/><rect x="256" y="864" width="33" height="33" fill="#dfb9e4"/><rect x="288" y="864" width="33" height="33" fill="#e3b6df"/><rect x="320" y="864" width="33" height="33" fill="#e5b3da"/><rect x="352" y="864" width="33" height="33" fill="#e7b0d3"/><rect x="1664" y="864" width="33" height="33" fill="#f9565c"/><rect x="1696" y="864" width="33" height="33" fill="#fa555c"/><rect x="1728" y="864" width="33" height="33" fill="#fb555c"/><rect x="1760" y="864" width="33" height="33" fill="#fb545c"/><rect x="1792" y="864" width="33" height="33" fill="#fc525e"/><rect x="1824" y="864" width="33" height="33" fill="#fd5161"/><rect x="1856" y="864" width="33" height="33" fill="#fe4f64"/><rect x="1888" y="864" width="33" height="33" fill="#ff4d67"/><rect x="1920" y="864" width="33" height="33" fill="#ff4c6b"/><rect x="1952" y="864" width="33" height="33" fill="#fd4b70"/><rect x="1984" y="864" width="33" height="33" fill="#fb4c75"/><rect x="2016" y="864" width="152" height="33" fill="#f64e7b"/><rect x="-120" y="896" width="153" height="33" fill="#c6c0ed"/><rect x="32" y="896" width="33" height="33" fill="#c9c0ed"/><rect x="64" y="896" width="33" height="33" fill="#ccbfee"/><rect x="96" y="896" width="33" height="33" fill="#d0beed"/><rect x="128" y="896" width="33" height="33" fill="#d4bded"/><rect x="160" y="896" width="33" height="33" fill="#d8bceb"/><rect x="192" y="896" width="33" height="33" fill="#dcbae8"/><rect x="224" y="896" width="33" height="33" fill="#dfb7e4"/><rect x="256" y="896" width="33" height="33" fill="#e3b5df"/><rect x="288" y="896" width="33" height="33" fill="#e6b2da"/><rect x="320" y="896" width="33" height="33" fill="#e8aed3"/><rect x="352" y="896" width="33" height="33" fill="#e9abcc"/><rect x="1664" y="896" width="33" height="33" fill="#f9575a"/><rect x="1696" y="896" width="33" height="33" fill="#fa5759"/><rect x="1728" y="896" width="33" height="33" fill="#fb5659"/><rect x="1760" y="896" width="33" height="33" fill="#fb565a"/><rect x="1792" y="896" width="33" height="33" fill="#fc545c"/><rect x="1824" y="896" width="33" height="33" fill="#fd525f"/><rect x="1856" y="896" width="33" height="33" fill="#fe5063"/><rect x="1888" y="896" width="33" height="33" fill="#ff4e67"/><rect x="1920" y="896" width="33" height="33" fill="#ff4d6b"/><rect x="1952" y="896" width="33" height="33" fill="#ff4c6e"/><rect x="1984" y="896" width="33" height="33" fill="#fd4c73"/><rect x="2016" y="896" width="152" height="33" fill="#f94d78"/><rect x="-120" y="928" width="153" height="33" fill="#cabced"/><rect x="32" y="928" width="33" height="33" fill="#cebcee"/><rect x="64" y="928" width="33" height="33" fill="#d1bbee"/><rect x="96" y="928" width="33" height="33" fill="#d5bbed"/><rect x="128" y="928" width="33" height="33" fill="#d9b9ec"/><rect x="160" y="928" width="33" height="33" fill="#ddb8ea"/><rect x="192" y="928" width="33" height="33" fill="#e0b5e6"/><rect x="224" y="928" width="33" height="33" fill="#e4b3e0"/><rect x="256" y="928" width="33" height="33" fill="#e7b0da"/><rect x="288" y="928" width="33" height="33" fill="#e9add3"/><rect x="320" y="928" width="33" height="33" fill="#ebaacc"/><rect x="352" y="928" width="33" height="33" fill="#eba7c5"/><rect x="1664" y="928" width="33" height="33" fill="#f95958"/><rect x="1696" y="928" width="33" height="33" fill="#fa5957"/><rect x="1728" y="928" width="33" height="33" fill="#fa5857"/><rect x="1760" y="928" width="33" height="33" fill="#fb5858"/><rect x="1792" y="928" width="33" height="33" fill="#fc575a"/><rect x="1824" y="928" width="33" height="33" fill="#fd555e"/><rect x="1856" y="928" width="33" height="33" fill="#fe5263"/><rect x="1888" y="928" width="33" height="33" fill="#fe5068"/><rect x="1920" y="928" width="33" height="33" fill="#ff4e6a"/><rect x="1952" y="928" width="33" height="33" fill="#ff4d6d"/><rect x="1984" y="928" width="33" height="33" fill="#fe4c71"/><rect x="2016" y="928" width="152" height="33" fill="#fb4d76"/><rect x="-120" y="960" width="153" height="33" fill="#d1b6ef"/><rect x="32" y="960" width="33" height="33" fill="#d4b7ef"/><rect x="64" y="960" width="33" height="33" fill="#d7b7ef"/><rect x="96" y="960" width="33" height="33" fill="#dab6ed"/><rect x="128" y="960" width="33" height="33" fill="#deb5eb"/><rect x="160" y="960" width="33" height="33" fill="#e2b3e8"/><rect x="192" y="960" width="33" height="33" fill="#e5b1e3"/><rect x="224" y="960" width="33" height="33" fill="#e8aedc"/><rect x="256" y="960" width="33" height="33" fill="#ebabd4"/><rect x="288" y="960" width="33" height="33" fill="#eda8cc"/><rect x="320" y="960" width="33" height="33" fill="#eda5c4"/><rect x="352" y="960" width="33" height="33" fill="#eda3bc"/><rect x="1664" y="960" width="33" height="33" fill="#f95a56"/><rect x="1696" y="960" width="33" height="33" fill="#fa5a55"/><rect x="1728" y="960" width="33" height="33" fill="#fa5a56"/><rect x="1760" y="960" width="33" height="33" fill="#fb5a56"/><rect x="1792" y="960" width="33" height="33" fill="#fc5958"/><rect x="1824" y="960" width="33" height="33" fill="#fd575c"/><rect x="1856" y="960" width="33" height="33" fill="#fe5561"/><rect x="1888" y="960" width="33" height="33" fill="#ff5265"/><rect x="1920" y="960" width="33" height="33" fill="#ff5068"/><rect x="1952" y="960" width="33" height="33" fill="#ff4e6c"/><rect x="1984" y="960" width="33" height="33" fill="#ff4d70"/><rect x="2016" y="960" width="152" height="33" fill="#fd4d74"/><rect x="-120" y="992" width="153" height="33" fill="#d9aff2"/><rect x="32" y="992" width="33" height="33" fill="#dbb0f1"/><rect x="64" y="992" width="33" height="33" fill="#ddb1ef"/><rect x="96" y="992" width="33" height="33" fill="#dfb1ec"/><rect x="128" y="992" width="33" height="33" fill="#e3b0e7"/><rect x="160" y="992" width="33" height="33" fill="#e6aee4"/><rect x="192" y="992" width="33" height="33" fill="#eaacde"/><rect x="224" y="992" width="33" height="33" fill="#eca9d5"/><rect x="256" y="992" width="33" height="33" fill="#eea6cc"/><rect x="288" y="992" width="33" height="33" fill="#f0a3c4"/><rect x="320" y="992" width="33" height="33" fill="#f0a1bc"/><rect x="352" y="992" width="33" height="33" fill="#ef9fb3"/><rect x="1664" y="992" width="33" height="33" fill="#f95c54"/><rect x="1696" y="992" width="33" height="33" fill="#f95c54"/><rect x="1728" y="992" width="33" height="33" fill="#fa5c54"/><rect x="1760" y="992" width="33" height="33" fill="#fb5c55"/><rect x="1792" y="992" width="33" height="33" fill="#fc5b57"/><rect x="1824" y="992" width="33" height="33" fill="#fd5a5a"/><rect x="1856" y="992" width="33" height="33" fill="#fe585e"/><rect x="1888" y="992" width="33" height="33" fill="#ff5562"/><rect x="1920" y="992" width="33" height="33" fill="#ff5366"/><rect x="1952" y="992" width="33" height="33" fill="#ff516a"/><rect x="1984" y="992" width="33" height="33" fill="#ff4f6e"/><rect x="2016" y="992" width="152" height="33" fill="#ff4e73"/><rect x="-120" y="1024" width="153" height="33" fill="#e1a7f5"/><rect x="32" y="1024" width="33" height="33" fill="#e2a9f2"/><rect x="64" y="1024" width="33" height="33" fill="#e4abee"/><rect x="96" y="1024" width="33" height="33" fill="#e5abe8"/><rect x="128" y="1024" width="33" height="33" fill="#e8aae2"/><rect x="160" y="1024" width="33" height="33" fill="#eba8db"/><rect x="192" y="1024" width="33" height="33" fill="#eda6d4"/><rect x="224" y="1024" width="33" height="33" fill="#efa4cb"/><rect x="256" y="1024" width="33" height="33" fill="#f1a2c3"/><rect x="288" y="1024" width="33" height="33" fill="#f1a0ba"/><rect x="320" y="1024" width="33" height="33" fill="#f19db2"/><rect x="352" y="1024" width="33" height="33" fill="#f09baa"/><rect x="384" y="1024" width="33" height="33" fill="#ef98a2"/><rect x="416" y="1024" width="33" height="33" fill="#ef969b"/><rect x="448" y="1024" width="33" height="33" fill="#ef9395"/><rect x="480" y="1024" width="33" height="33" fill="#ef9190"/><rect x="512" y="1024" width="33" height="33" fill="#ef8e8a"/><rect x="544" y="1024" width="33" height="33" fill="#ef8c86"/><rect x="576" y="1024" width="33" height="33" fill="#ef8981"/><rect x="608" y="1024" width="33" height="33" fill="#ee877d"/><rect x="640" y="1024" width="33" height="33" fill="#ee847a"/><rect x="672" y="1024" width="33" height="33" fill="#ed8177"/><rect x="704" y="1024" width="33" height="33" fill="#ec7e76"/><rect x="736" y="1024" width="33" height="33" fill="#eb7b74"/><rect x="768" y="1024" width="33" height="33" fill="#e97873"/><rect x="800" y="1024" width="33" height="33" fill="#e87672"/><rect x="832" y="1024" width="33" height="33" fill="#e77370"/><rect x="864" y="1024" width="33" height="33" fill="#e6706f"/><rect x="896" y="1024" width="33" height="33" fill="#e66e6d"/><rect x="928" y="1024" width="33" height="33" fill="#e66c6c"/><rect x="960" y="1024" width="33" height="33" fill="#e66a6b"/><rect x="992" y="1024" width="33" height="33" fill="#e66869"/><rect x="1024" y="1024" width="33" height="33" fill="#e76767"/><rect x="1056" y="1024" width="33" height="33" fill="#e86566"/><rect x="1088" y="1024" width="33" height="33" fill="#e86464"/><rect x="1120" y="1024" width="33" height="33" fill="#e96262"/><rect x="1152" y="1024" width="33" height="33" fill="#ea6160"/><rect x="1184" y="1024" width="33" height="33" fill="#eb605e"/><rect x="1216" y="1024" width="33" height="33" fill="#ec5f5d"/><rect x="1248" y="1024" width="33" height="33" fill="#ed5e5b"/><rect x="1280" y="1024" width="33" height="33" fill="#ee5e5a"/><rect x="1312" y="1024" width="33" height="33" fill="#ef5d5a"/><rect x="1344" y="1024" width="33" height="33" fill="#f05d59"/><rect x="1376" y="1024" width="33" height="33" fill="#f05c58"/><rect x="1408" y="1024" width="33" height="33" fill="#f15c57"/><rect x="1440" y="1024" width="33" height="33" fill="#f25c57"/><rect x="1472" y="1024" width="33" height="33" fill="#f25c56"/><rect x="1504" y="1024" width="33" height="33" fill="#f35c55"/><rect x="1536" y="1024" width="33" height="33" fill="#f45c54"/><rect x="1568" y="1024" width="33" height="33" fill="#f55c54"/><rect x="1600" y="1024" width="33" height="33" fill="#f65d53"/><rect x="1632" y="1024" width="33" height="33" fill="#f75d52"/><rect x="1664" y="1024" width="33" height="33" fill="#f85d52"/><rect x="1696" y="1024" width="33" height="33" fill="#f95e52"/><rect x="1728" y="1024" width="33" height="33" fill="#fa5e53"/><rect x="1760" y="1024" width="33" height="33" fill="#fb5e54"/><rect x="1792" y="1024" width="33" height="33" fill="#fc5e56"/><rect x="1824" y="1024" width="33" height="33" fill="#fd5d58"/><rect x="1856" y="1024" width="33" height="33" fill="#fe5b5c"/><rect x="1888" y="1024" width="33" height="33" fill="#ff5960"/><rect x="1920" y="1024" width="33" height="33" fill="#ff5664"/><rect x="1952" y="1024" width="33" height="33" fill="#ff5468"/><rect x="1984" y="1024" width="33" height="33" fill="#ff526d"/><rect x="2016" y="1024" width="152" height="33" fill="#ff5171"/><rect x="-120" y="1056" width="153" height="33" fill="#e9a0f7"/><rect x="32" y="1056" width="33" height="33" fill="#e9a3f2"/><rect x="64" y="1056" width="33" height="33" fill="#eaa5ec"/><rect x="96" y="1056" width="33" height="33" fill="#eba5e4"/><rect x="128" y="1056" width="33" height="33" fill="#eda4dc"/><rect x="160" y="1056" width="33" height="33" fill="#efa2d2"/><rect x="192" y="1056" width="33" height="33" fill="#f1a0c9"/><rect x="224" y="1056" width="33" height="33" fill="#f29fc1"/><rect x="256" y="1056" width="33" height="33" fill="#f29eb8"/><rect x="288" y="1056" width="33" height="33" fill="#f29db0"/><rect x="320" y="1056" width="33" height="33" fill="#f19aa8"/><rect x="352" y="1056" width="33" height="33" fill="#f097a0"/><rect x="384" y="1056" width="33" height="33" fill="#f09498"/><rect x="416" y="1056" width="33" height="33" fill="#ef9292"/><rect x="448" y="1056" width="33" height="33" fill="#ef908c"/><rect x="480" y="1056" width="33" height="33" fill="#ef8d87"/><rect x="512" y="1056" width="33" height="33" fill="#ef8b82"/><rect x="544" y="1056" width="33" height="33" fill="#f0897d"/><rect x="576" y="1056" width="33" height="33" fill="#f08678"/><rect x="608" y="1056" width="33" height="33" fill="#ef8473"/><rect x="640" y="1056" width="33" height="33" fill="#ef8170"/><rect x="672" y="1056" width="33" height="33" fill="#ee7e6e"/><rect x="704" y="1056" width="33" height="33" fill="#ed7b6c"/><rect x="736" y="1056" width="33" height="33" fill="#eb786b"/><rect x="768" y="1056" width="33" height="33" fill="#ea7569"/><rect x="800" y="1056" width="33" height="33" fill="#e87268"/><rect x="832" y="1056" width="33" height="33" fill="#e76f66"/><rect x="864" y="1056" width="33" height="33" fill="#e56c65"/><rect x="896" y="1056" width="33" height="33" fill="#e56a63"/><rect x="928" y="1056" width="33" height="33" fill="#e56862"/><rect x="960" y="1056" width="33" height="33" fill="#e56762"/><rect x="992" y="1056" width="33" height="33" fill="#e66561"/><rect x="1024" y="1056" width="33" height="33" fill="#e76460"/><rect x="1056" y="1056" width="33" height="33" fill="#e7635e"/><rect x="1088" y="1056" width="33" height="33" fill="#e8625d"/><rect x="1120" y="1056" width="33" height="33" fill="#e9615b"/><rect x="1152" y="1056" width="33" height="33" fill="#ea5f59"/><rect x="1184" y="1056" width="33" height="33" fill="#eb5f58"/><rect x="1216" y="1056" width="33" height="33" fill="#ec5e57"/><rect x="1248" y="1056" width="33" height="33" fill="#ed5d56"/><rect x="1280" y="1056" width="33" height="33" fill="#ee5d56"/><rect x="1312" y="1056" width="33" height="33" fill="#ef5d55"/><rect x="1344" y="1056" width="33" height="33" fill="#ef5d55"/><rect x="1376" y="1056" width="33" height="33" fill="#f05c55"/><rect x="1408" y="1056" width="33" height="33" fill="#f15d55"/><rect x="1440" y="1056" width="33" height="33" fill="#f15d54"/><rect x="1472" y="1056" width="33" height="33" fill="#f25d54"/><rect x="1504" y="1056" width="33" height="33" fill="#f35d53"/><rect x="1536" y="1056" width="33" height="33" fill="#f45d53"/><rect x="1568" y="1056" width="33" height="33" fill="#f55d52"/><rect x="1600" y="1056" width="33" height="33" fill="#f65e51"/><rect x="1632" y="1056" width="33" height="33" fill="#f75e51"/><rect x="1664" y="1056" width="33" height="33" fill="#f85f51"/><rect x="1696" y="1056" width="33" height="33" fill="#f95f51"/><rect x="1728" y="1056" width="33" height="33" fill="#fa6051"/><rect x="1760" y="1056" width="33" height="33" fill="#fb6152"/><rect x="1792" y="1056" width="33" height="33" fill="#fc6154"/><rect x="1824" y="1056" width="33" height="33" fill="#fd6056"/><rect x="1856" y="1056" width="33" height="33" fill="#fe5e5a"/><rect x="1888" y="1056" width="33" height="33" fill="#ff5d5d"/><rect x="1920" y="1056" width="33" height="33" fill="#ff5a62"/><rect x="1952" y="1056" width="33" height="33" fill="#ff5866"/><rect x="1984" y="1056" width="33" height="33" fill="#ff566b"/><rect x="2016" y="1056" width="152" height="33" fill="#ff5570"/><rect x="-120" y="1088" width="153" height="33" fill="#ee9df6"/><rect x="32" y="1088" width="33" height="33" fill="#ee9ff0"/><rect x="64" y="1088" width="33" height="33" fill="#eea1e9"/><rect x="96" y="1088" width="33" height="33" fill="#efa1e1"/><rect x="128" y="1088" width="33" height="33" fill="#f19fd6"/><rect x="160" y="1088" width="33" height="33" fill="#f29dca"/><rect x="192" y="1088" width="33" height="33" fill="#f49bbf"/><rect x="224" y="1088" width="33" height="33" fill="#f49bb7"/><rect x="256" y="1088" width="33" height="33" fill="#f49baf"/><rect x="288" y="1088" width="33" height="33" fill="#f39aa6"/><rect x="320" y="1088" width="33" height="33" fill="#f2979e"/><rect x="352" y="1088" width="33" height="33" fill="#f19496"/><rect x="384" y="1088" width="33" height="33" fill="#ef918f"/><rect x="416" y="1088" width="33" height="33" fill="#ef8e89"/><rect x="448" y="1088" width="33" height="33" fill="#ef8c83"/><rect x="480" y="1088" width="33" height="33" fill="#f08a7f"/><rect x="512" y="1088" width="33" height="33" fill="#f0887a"/><rect x="544" y="1088" width="33" height="33" fill="#f08674"/><rect x="576" y="1088" width="33" height="33" fill="#f1836f"/><rect x="608" y="1088" width="33" height="33" fill="#f1816a"/><rect x="640" y="1088" width="33" height="33" fill="#f07e67"/><rect x="672" y="1088" width="33" height="33" fill="#ef7b65"/><rect x="704" y="1088" width="33" height="33" fill="#ed7864"/><rect x="736" y="1088" width="33" height="33" fill="#ec7562"/><rect x="768" y="1088" width="33" height="33" fill="#ea7261"/><rect x="800" y="1088" width="33" height="33" fill="#e86f5f"/><rect x="832" y="1088" width="33" height="33" fill="#e66c5d"/><rect x="864" y="1088" width="33" height="33" fill="#e4685b"/><rect x="896" y="1088" width="33" height="33" fill="#e4665a"/><rect x="928" y="1088" width="33" height="33" fill="#e4655a"/><rect x="960" y="1088" width="33" height="33" fill="#e5645a"/><rect x="992" y="1088" width="33" height="33" fill="#e66359"/><rect x="1024" y="1088" width="33" height="33" fill="#e76259"/><rect x="1056" y="1088" width="33" height="33" fill="#e76158"/><rect x="1088" y="1088" width="33" height="33" fill="#e86057"/><rect x="1120" y="1088" width="33" height="33" fill="#e95f55"/><rect x="1152" y="1088" width="33" height="33" fill="#ea5e54"/><rect x="1184" y="1088" width="33" height="33" fill="#ea5d52"/><rect x="1216" y="1088" width="33" height="33" fill="#eb5d52"/><rect x="1248" y="1088" width="33" height="33" fill="#ec5d52"/><rect x="1280" y="1088" width="33" height="33" fill="#ed5c52"/><rect x="1312" y="1088" width="33" height="33" fill="#ee5c52"/><rect x="1344" y="1088" width="33" height="33" fill="#ef5c52"/><rect x="1376" y="1088" width="33" height="33" fill="#f05c52"/><rect x="1408" y="1088" width="33" height="33" fill="#f05d52"/><rect x="1440" y="1088" width="33" height="33" fill="#f05d52"/><rect x="1472" y="1088" width="33" height="33" fill="#f15d52"/><rect x="1504" y="1088" width="33" height="33" fill="#f25d51"/><rect x="1536" y="1088" width="33" height="33" fill="#f35e51"/><rect x="1568" y="1088" width="33" height="33" fill="#f45e50"/><rect x="1600" y="1088" width="33" height="33" fill="#f65e50"/><rect x="1632" y="1088" width="33" height="33" fill="#f75f4f"/><rect x="1664" y="1088" width="33" height="33" fill="#f8604f"/><rect x="1696" y="1088" width="33" height="33" fill="#f8604f"/><rect x="1728" y="1088" width="33" height="33" fill="#f96150"/><rect x="1760" y="1088" width="33" height="33" fill="#fa6351"/><rect x="1792" y="1088" width="33" height="33" fill="#fb6452"/><rect x="1824" y="1088" width="33" height="33" fill="#fd6355"/><rect x="1856" y="1088" width="33" height="33" fill="#fe6257"/><rect x="1888" y="1088" width="33" height="33" fill="#ff605b"/><rect x="1920" y="1088" width="33" height="33" fill="#ff5e60"/><rect x="1952" y="1088" width="33" height="33" fill="#ff5b65"/><rect x="1984" y="1088" width="33" height="33" fill="#ff596a"/><rect x="2016" y="1088" width="152" height="33" fill="#ff586f"/><rect x="-120" y="1120" width="153" height="152" fill="#f09bf3"/><rect x="32" y="1120" width="33" height="152" fill="#f19ced"/><rect x="64" y="1120" width="33" height="152" fill="#f19ee6"/><rect x="96" y="1120" width="33" height="152" fill="#f29edd"/><rect x="128" y="1120" width="33" height="152" fill="#f39cd2"/><rect x="160" y="1120" width="33" height="152" fill="#f49ac6"/><rect x="192" y="1120" width="33" height="152" fill="#f599bb"/><rect x="224" y="1120" width="33" height="152" fill="#f599b1"/><rect x="256" y="1120" width="33" height="152" fill="#f599a8"/><rect x="288" y="1120" width="33" height="152" fill="#f4989e"/><rect x="320" y="1120" width="33" height="152" fill="#f29496"/><rect x="352" y="1120" width="33" height="152" fill="#f0908d"/><rect x="384" y="1120" width="33" height="152" fill="#ef8d85"/><rect x="416" y="1120" width="33" height="152" fill="#ef8a80"/><rect x="448" y="1120" width="33" height="152" fill="#f0897c"/><rect x="480" y="1120" width="33" height="152" fill="#f08778"/><rect x="512" y="1120" width="33" height="152" fill="#f18573"/><rect x="544" y="1120" width="33" height="152" fill="#f1836e"/><rect x="576" y="1120" width="33" height="152" fill="#f18168"/><rect x="608" y="1120" width="33" height="152" fill="#f27e62"/><rect x="640" y="1120" width="33" height="152" fill="#f17c5e"/><rect x="672" y="1120" width="33" height="152" fill="#f0795d"/><rect x="704" y="1120" width="33" height="152" fill="#ee765c"/><rect x="736" y="1120" width="33" height="152" fill="#ec735b"/><rect x="768" y="1120" width="33" height="152" fill="#ea705a"/><rect x="800" y="1120" width="33" height="152" fill="#e86c58"/><rect x="832" y="1120" width="33" height="152" fill="#e66956"/><rect x="864" y="1120" width="33" height="152" fill="#e46553"/><rect x="896" y="1120" width="33" height="152" fill="#e36351"/><rect x="928" y="1120" width="33" height="152" fill="#e46252"/><rect x="960" y="1120" width="33" height="152" fill="#e56253"/><rect x="992" y="1120" width="33" height="152" fill="#e66153"/><rect x="1024" y="1120" width="33" height="152" fill="#e76053"/><rect x="1056" y="1120" width="33" height="152" fill="#e86052"/><rect x="1088" y="1120" width="33" height="152" fill="#e85f51"/><rect x="1120" y="1120" width="33" height="152" fill="#e95e50"/><rect x="1152" y="1120" width="33" height="152" fill="#ea5d4e"/><rect x="1184" y="1120" width="33" height="152" fill="#ea5c4d"/><rect x="1216" y="1120" width="33" height="152" fill="#eb5c4d"/><rect x="1248" y="1120" width="33" height="152" fill="#ec5c4e"/><rect x="1280" y="1120" width="33" height="152" fill="#ed5c4e"/><rect x="1312" y="1120" width="33" height="152" fill="#ee5c4e"/><rect x="1344" y="1120" width="33" height="152" fill="#ef5c4f"/><rect x="1376" y="1120" width="33" height="152" fill="#ef5c4f"/><rect x="1408" y="1120" width="33" height="152" fill="#f05d4f"/><rect x="1440" y="1120" width="33" height="152" fill="#f05d50"/><rect x="1472" y="1120" width="33" height="152" fill="#f05e50"/><rect x="1504" y="1120" width="33" height="152" fill="#f15e50"/><rect x="1536" y="1120" width="33" height="152" fill="#f35e4f"/><rect x="1568" y="1120" width="33" height="152" fill="#f45f4f"/><rect x="1600" y="1120" width="33" height="152" fill="#f55f4e"/><rect x="1632" y="1120" width="33" height="152" fill="#f6604e"/><rect x="1664" y="1120" width="33" height="152" fill="#f7604e"/><rect x="1696" y="1120" width="33" height="152" fill="#f8614e"/><rect x="1728" y="1120" width="33" height="152" fill="#f9624f"/><rect x="1760" y="1120" width="33" height="152" fill="#fa6350"/><rect x="1792" y="1120" width="33" height="152" fill="#fb6452"/><rect x="1824" y="1120" width="33" height="152" fill="#fc6454"/><rect x="1856" y="1120" width="33" height="152" fill="#fd6456"/><rect x="1888" y="1120" width="33" height="152" fill="#fe6359"/><rect x="1920" y="1120" width="33" height="152" fill="#ff605e"/><rect x="1952" y="1120" width="33" height="152" fill="#ff5d63"/><rect x="1984" y="1120" width="33" height="152" fill="#ff5b69"/><rect x="2016" y="1120" width="152" height="152" fill="#ff5a6e"/></g></svg></div>
<div id="winsh"></div>
<div id="win">
 <div id="hdr">
  <svg id="logo" viewBox="0 0 24 24">
   <defs>
    <linearGradient id="lg1" x1="0" y1="0" x2="1" y2="0"><stop offset="0" stop-color="#a2e8ea"/><stop offset=".5" stop-color="#25b9e4"/><stop offset="1" stop-color="#0a80e0"/></linearGradient>
    <linearGradient id="lg2" x1="0" y1="0" x2="1" y2="0"><stop offset="0" stop-color="#36c3a2"/><stop offset=".5" stop-color="#8f9ea0"/><stop offset="1" stop-color="#f6764f"/></linearGradient>
    <linearGradient id="lg3" x1="0" y1="0" x2="1" y2="0"><stop offset="0" stop-color="#f76bb4"/><stop offset="1" stop-color="#ff6e86"/></linearGradient>
    <linearGradient id="lgm" x1="0" y1="0" x2="0" y2="1"><stop offset="0" stop-color="#fff"/><stop offset=".25" stop-color="#fff"/><stop offset=".55" stop-color="#000"/><stop offset="1" stop-color="#000"/></linearGradient>
    <linearGradient id="lgm2" x1="0" y1="0" x2="0" y2="1"><stop offset="0" stop-color="#000"/><stop offset=".5" stop-color="#000"/><stop offset=".85" stop-color="#fff"/><stop offset="1" stop-color="#fff"/></linearGradient>
    <mask id="mk1"><rect width="24" height="24" fill="url(#lgm)"/></mask>
    <mask id="mk2"><rect width="24" height="24" fill="url(#lgm2)"/></mask>
    <linearGradient id="lgs" x1="0" y1="0" x2="1" y2="0"><stop offset="0" stop-color="#2cbf96"/><stop offset=".6" stop-color="#3bb8c4"/><stop offset="1" stop-color="#7a9fb0"/></linearGradient><clipPath id="lc"><rect width="24" height="24" rx="4.5"/></clipPath>
   </defs>
   <g clip-path="url(#lc)">
    <rect width="24" height="24" fill="url(#lg2)"/>
    <rect width="24" height="24" fill="url(#lg1)" mask="url(#mk1)"/>
    <rect width="24" height="24" fill="url(#lg3)" mask="url(#mk2)"/>
   </g>
   <rect x="4.3" y="6.4" width="15.4" height="11" rx="4.2" fill="#fff"/>
   <rect x="6.4" y="10.5" width="11.6" height="2.4" rx="1.2" fill="url(#lgs)"/>
  </svg>
  <div class="t" id="t61" style="left:47.00px;top:16.00px;font-size:22.4px;line-height:33px;color:#202223;font-weight:400;-webkit-text-stroke:0.8px #202223;transform:scaleX(1.0);transform-origin:0 0;letter-spacing:0.375px">Submarine</div>
  <svg id="dots" width="20" height="5" viewBox="0 0 20 5"><circle cx="2.6" cy="2.5" r="1.75" fill="#3a3d40"/><circle cx="9.6" cy="2.5" r="1.75" fill="#3a3d40"/><circle cx="16.6" cy="2.5" r="1.75" fill="#3a3d40"/></svg>
 </div>
 <div id="content">
<div class="card" style="left:140.00px;top:-58.00px;width:749.00px;height:61.50px;background:#f9fafb;"></div>
<div class="card" style="left:140.00px;top:23.00px;width:749.00px;height:951.50px;"></div>
<div class="foot" style="left:140.00px;top:902.00px;width:749px;height:72.5px"></div>
<div class="t" id="t1" style="left:163.90px;top:49.00px;font-size:19px;line-height:27px;color:#202223;font-weight:400;letter-spacing:0.714px;-webkit-text-stroke:0.62px #202223;transform:scaleX(1.02);transform-origin:0 0;">Payment history</div>
<div class="hl" style="left:140.00px;width:749.00px;top:100.00px;height:2px;background:#e4e7ec"></div>
<div class="t" id="t2" style="left:163.90px;top:121.55px;font-size:16.6px;line-height:24px;color:#202223;font-weight:400;letter-spacing:0.000px;transform:scaleX(1.04);transform-origin:0 0;">Charge</div>
<div class="t" id="t3" style="left:224.90px;top:121.55px;font-size:16.6px;line-height:24px;color:#637381;font-weight:400;letter-spacing:0.739px;transform:scaleX(1.04);transform-origin:0 0;">#01996ca5-6a79-4c59-836b</div>
<div class="t" id="t4" style="right:560.29px;top:121.55px;font-size:16.6px;line-height:24px;color:#202223;font-weight:400;letter-spacing:0.000px;text-decoration:line-through;letter-spacing:0.2px;transform:scaleX(1.04);transform-origin:100% 0;">$28.75</div>
<svg class="ic" style="left:167.55px;top:160.90px;color:#637381" width="17" height="17" viewBox="0 0 20 20" fill="none" stroke="currentColor" stroke-width="1.35" stroke-linecap="round" stroke-linejoin="round"><rect x="3.75" y="3.75" width="12.5" height="12.5" rx="3"/><path d="M3.75 10.5h2.6c.5 0 .9.3 1.1.7.4.9 1.3 1.6 2.55 1.6s2.15-.7 2.55-1.6c.2-.4.6-.7 1.1-.7h2.6"/></svg>
<div class="t" id="t5" style="left:192.90px;top:159.60px;font-size:14.5px;line-height:20px;color:#637381;font-weight:400;letter-spacing:0.143px;transform:scaleX(1.04);transform-origin:0 0;">Created – 21 Sept 2025, 07:20</div>
<svg class="ic" style="left:167.55px;top:185.05px;color:#637381" width="17" height="17" viewBox="0 0 20 20" fill="none" stroke="currentColor" stroke-width="1.35" stroke-linecap="round" stroke-linejoin="round"><path d="M11.2 16.25H6.75a3 3 0 0 1-3-3v-6.5a3 3 0 0 1 3-3h6.5a3 3 0 0 1 3 3v4.45a3 3 0 0 1-.88 2.12l-2.05 2.05a3 3 0 0 1-2.12.88Z"/><path d="M16 11.6h-2.2a2 2 0 0 0-2 2V16"/><path d="M7 7.6h6M7 10.2h2.5"/></svg>
<div class="t" id="t6" style="left:192.90px;top:183.75px;font-size:14.5px;line-height:20px;color:#637381;font-weight:400;letter-spacing:0.235px;transform:scaleX(1.04);transform-origin:0 0;">Description – Submarine subscription order #1321-002</div>
<svg class="ic" style="left:167.55px;top:209.20px;color:#637381" width="17" height="17" viewBox="0 0 20 20" fill="none" stroke="currentColor" stroke-width="1.35" stroke-linecap="round" stroke-linejoin="round"><circle cx="10" cy="10" r="6.9"/><path d="M10 9.7v3.9"/><circle cx="10" cy="6.5" r=".85" fill="currentColor" stroke="none"/></svg>
<div class="t" id="t7" style="left:192.90px;top:207.90px;font-size:14.5px;line-height:20px;color:#637381;font-weight:400;letter-spacing:0.188px;transform:scaleX(1.04);transform-origin:0 0;">Message – Your card was declined.</div>
<svg class="ic" style="left:167.55px;top:233.35px;color:#637381" width="17" height="17" viewBox="0 0 20 20" fill="none" stroke="currentColor" stroke-width="1.35" stroke-linecap="round" stroke-linejoin="round"><path d="M3.4 9.2c0-1 .3-1.6.9-2.4l1.3-2c.4-.6 1.2-.7 1.7-.2l1 1c.3.3.7.4 1.1.4h1.2c.4 0 .8-.1 1.1-.4l1-1c.5-.5 1.3-.4 1.7.2l1.3 2c.6.8.9 1.4.9 2.4v4.3a2.5 2.5 0 0 1-2.5 2.5H5.9a2.5 2.5 0 0 1-2.5-2.5V9.2Z"/><path d="M6.6 10.6h6.8"/></svg>
<div class="t" id="t8" style="left:192.90px;top:232.05px;font-size:14.5px;line-height:20px;color:#637381;font-weight:400;letter-spacing:0.235px;transform:scaleX(1.04);transform-origin:0 0;">Metadata – <span style="color:#2c6ecb;text-decoration:underline">9 items</span></div>
<svg class="ic" style="left:167.55px;top:257.50px;color:#637381" width="17" height="17" viewBox="0 0 20 20" fill="none" stroke="currentColor" stroke-width="1.35" stroke-linecap="round" stroke-linejoin="round"><path d="M3.9 5.2a2.3 2.3 0 0 1 2.3-2.3h7.6a2.3 2.3 0 0 1 2.3 2.3v12.1l-2.05-1.6-2 1.6-2.05-1.6-2.05 1.6-2-1.6-2.05 1.6V5.2Z"/><path d="m7.3 9.4 1.9 1.9 3.5-3.8"/></svg>
<div class="t" id="t9" style="left:192.90px;top:256.20px;font-size:14.5px;line-height:20px;color:#637381;font-weight:400;letter-spacing:0.167px;transform:scaleX(1.04);transform-origin:0 0;">Record status – Processed</div>
<svg class="ic" style="left:167.55px;top:281.65px;color:#637381" width="17" height="17" viewBox="0 0 20 20" fill="none" stroke="currentColor" stroke-width="1.35" stroke-linecap="round" stroke-linejoin="round"><path d="M9 5.25H6.75a3 3 0 0 0-3 3v5a3 3 0 0 0 3 3h5a3 3 0 0 0 3-3V11"/><path d="M11.75 3.75h4.5v4.5M16 4l-6.5 6.5"/></svg>
<div class="t" id="t10" style="left:192.90px;top:280.35px;font-size:14.5px;line-height:20px;color:#637381;font-weight:400;letter-spacing:0.118px;transform:scaleX(1.04);transform-origin:0 0;">Source – Submarine</div>
<svg class="ic" style="left:167.55px;top:305.80px;color:#c9240c" width="17" height="17" viewBox="0 0 20 20" fill="none" stroke="currentColor" stroke-width="1.4" stroke-linecap="round" stroke-linejoin="round"><path d="M4 7.3 3.1 10.8v4.8a2.6 2.6 0 0 0 2.6 2.6h8.6a2.6 2.6 0 0 0 2.6-2.6v-4.8L16.2 6.9"/><path d="M4 7.3l3-.7 2.2-2.7 1.5 5.8 1.8-2.8h3.7"/><path d="M3.1 10.8h2.8c.6 0 1 .3 1.3.8.6 1 1.5 1.6 2.8 1.6s2.2-.6 2.8-1.6c.3-.5.7-.8 1.3-.8h2.8"/></svg>
<div class="t" id="t11" style="left:192.90px;top:304.50px;font-size:14.5px;line-height:20px;color:#637381;font-weight:400;letter-spacing:0.143px;transform:scaleX(1.04);transform-origin:0 0;"><span style="color:#c9240c;-webkit-text-stroke:0.22px #c9240c">Status</span> – Failed</div>
<svg class="ic" style="left:167.55px;top:329.95px;color:#637381" width="17" height="17" viewBox="0 0 20 20" fill="none" stroke="currentColor" stroke-width="1.35" stroke-linecap="round" stroke-linejoin="round"><circle cx="10" cy="10" r="6.75"/><path d="M12 8.2c-.3-.7-1-1.1-2-1.1-1.2 0-2 .6-2 1.45 0 2 4 .9 4 2.9 0 .85-.8 1.45-2 1.45-1 0-1.7-.4-2-1.1M10 6v1.1M10 12.9V14"/></svg>
<div class="t" id="t12" style="left:192.90px;top:328.65px;font-size:14.5px;line-height:20px;color:#637381;font-weight:400;letter-spacing:0.154px;transform:scaleX(1.04);transform-origin:0 0;">Type – Capture</div>
<div class="hl" style="left:140.00px;width:749.00px;top:367.00px;height:2px;background:#e4e7ec"></div>
<div class="t" id="t13" style="left:163.90px;top:388.55px;font-size:16.6px;line-height:24px;color:#202223;font-weight:400;letter-spacing:0.000px;transform:scaleX(1.04);transform-origin:0 0;">Charge</div>
<div class="t" id="t14" style="left:224.90px;top:388.55px;font-size:16.6px;line-height:24px;color:#637381;font-weight:400;letter-spacing:0.522px;transform:scaleX(1.04);transform-origin:0 0;">#0199677f-1302-4507-bea3</div>
<div class="t" id="t15" style="right:560.29px;top:388.55px;font-size:16.6px;line-height:24px;color:#202223;font-weight:400;letter-spacing:0.000px;text-decoration:line-through;letter-spacing:0.2px;transform:scaleX(1.04);transform-origin:100% 0;">$28.75</div>
<svg class="ic" style="left:167.55px;top:427.90px;color:#637381" width="17" height="17" viewBox="0 0 20 20" fill="none" stroke="currentColor" stroke-width="1.35" stroke-linecap="round" stroke-linejoin="round"><rect x="3.75" y="3.75" width="12.5" height="12.5" rx="3"/><path d="M3.75 10.5h2.6c.5 0 .9.3 1.1.7.4.9 1.3 1.6 2.55 1.6s2.15-.7 2.55-1.6c.2-.4.6-.7 1.1-.7h2.6"/></svg>
<div class="t" id="t16" style="left:192.90px;top:426.60px;font-size:14.5px;line-height:20px;color:#637381;font-weight:400;letter-spacing:0.214px;transform:scaleX(1.04);transform-origin:0 0;">Created – 20 Sept 2025, 07:20</div>
<svg class="ic" style="left:167.55px;top:452.05px;color:#637381" width="17" height="17" viewBox="0 0 20 20" fill="none" stroke="currentColor" stroke-width="1.35" stroke-linecap="round" stroke-linejoin="round"><path d="M11.2 16.25H6.75a3 3 0 0 1-3-3v-6.5a3 3 0 0 1 3-3h6.5a3 3 0 0 1 3 3v4.45a3 3 0 0 1-.88 2.12l-2.05 2.05a3 3 0 0 1-2.12.88Z"/><path d="M16 11.6h-2.2a2 2 0 0 0-2 2V16"/><path d="M7 7.6h6M7 10.2h2.5"/></svg>
<div class="t" id="t17" style="left:192.90px;top:450.75px;font-size:14.5px;line-height:20px;color:#637381;font-weight:400;letter-spacing:0.235px;transform:scaleX(1.04);transform-origin:0 0;">Description – Submarine subscription order #1321-002</div>
<svg class="ic" style="left:167.55px;top:476.20px;color:#637381" width="17" height="17" viewBox="0 0 20 20" fill="none" stroke="currentColor" stroke-width="1.35" stroke-linecap="round" stroke-linejoin="round"><circle cx="10" cy="10" r="6.9"/><path d="M10 9.7v3.9"/><circle cx="10" cy="6.5" r=".85" fill="currentColor" stroke="none"/></svg>
<div class="t" id="t18" style="left:192.90px;top:474.90px;font-size:14.5px;line-height:20px;color:#637381;font-weight:400;letter-spacing:0.188px;transform:scaleX(1.04);transform-origin:0 0;">Message – Your card was declined.</div>
<svg class="ic" style="left:167.55px;top:500.35px;color:#637381" width="17" height="17" viewBox="0 0 20 20" fill="none" stroke="currentColor" stroke-width="1.35" stroke-linecap="round" stroke-linejoin="round"><path d="M3.4 9.2c0-1 .3-1.6.9-2.4l1.3-2c.4-.6 1.2-.7 1.7-.2l1 1c.3.3.7.4 1.1.4h1.2c.4 0 .8-.1 1.1-.4l1-1c.5-.5 1.3-.4 1.7.2l1.3 2c.6.8.9 1.4.9 2.4v4.3a2.5 2.5 0 0 1-2.5 2.5H5.9a2.5 2.5 0 0 1-2.5-2.5V9.2Z"/><path d="M6.6 10.6h6.8"/></svg>
<div class="t" id="t19" style="left:192.90px;top:499.05px;font-size:14.5px;line-height:20px;color:#637381;font-weight:400;letter-spacing:0.235px;transform:scaleX(1.04);transform-origin:0 0;">Metadata – <span style="color:#2c6ecb;text-decoration:underline">9 items</span></div>
<svg class="ic" style="left:167.55px;top:524.50px;color:#637381" width="17" height="17" viewBox="0 0 20 20" fill="none" stroke="currentColor" stroke-width="1.35" stroke-linecap="round" stroke-linejoin="round"><path d="M3.9 5.2a2.3 2.3 0 0 1 2.3-2.3h7.6a2.3 2.3 0 0 1 2.3 2.3v12.1l-2.05-1.6-2 1.6-2.05-1.6-2.05 1.6-2-1.6-2.05 1.6V5.2Z"/><path d="m7.3 9.4 1.9 1.9 3.5-3.8"/></svg>
<div class="t" id="t20" style="left:192.90px;top:523.20px;font-size:14.5px;line-height:20px;color:#637381;font-weight:400;letter-spacing:0.167px;transform:scaleX(1.04);transform-origin:0 0;">Record status – Processed</div>
<svg class="ic" style="left:167.55px;top:548.65px;color:#637381" width="17" height="17" viewBox="0 0 20 20" fill="none" stroke="currentColor" stroke-width="1.35" stroke-linecap="round" stroke-linejoin="round"><path d="M9 5.25H6.75a3 3 0 0 0-3 3v5a3 3 0 0 0 3 3h5a3 3 0 0 0 3-3V11"/><path d="M11.75 3.75h4.5v4.5M16 4l-6.5 6.5"/></svg>
<div class="t" id="t21" style="left:192.90px;top:547.35px;font-size:14.5px;line-height:20px;color:#637381;font-weight:400;letter-spacing:0.118px;transform:scaleX(1.04);transform-origin:0 0;">Source – Submarine</div>
<svg class="ic" style="left:167.55px;top:572.80px;color:#c9240c" width="17" height="17" viewBox="0 0 20 20" fill="none" stroke="currentColor" stroke-width="1.4" stroke-linecap="round" stroke-linejoin="round"><path d="M4 7.3 3.1 10.8v4.8a2.6 2.6 0 0 0 2.6 2.6h8.6a2.6 2.6 0 0 0 2.6-2.6v-4.8L16.2 6.9"/><path d="M4 7.3l3-.7 2.2-2.7 1.5 5.8 1.8-2.8h3.7"/><path d="M3.1 10.8h2.8c.6 0 1 .3 1.3.8.6 1 1.5 1.6 2.8 1.6s2.2-.6 2.8-1.6c.3-.5.7-.8 1.3-.8h2.8"/></svg>
<div class="t" id="t22" style="left:192.90px;top:571.50px;font-size:14.5px;line-height:20px;color:#637381;font-weight:400;letter-spacing:0.143px;transform:scaleX(1.04);transform-origin:0 0;"><span style="color:#c9240c;-webkit-text-stroke:0.22px #c9240c">Status</span> – Failed</div>
<svg class="ic" style="left:167.55px;top:596.95px;color:#637381" width="17" height="17" viewBox="0 0 20 20" fill="none" stroke="currentColor" stroke-width="1.35" stroke-linecap="round" stroke-linejoin="round"><circle cx="10" cy="10" r="6.75"/><path d="M12 8.2c-.3-.7-1-1.1-2-1.1-1.2 0-2 .6-2 1.45 0 2 4 .9 4 2.9 0 .85-.8 1.45-2 1.45-1 0-1.7-.4-2-1.1M10 6v1.1M10 12.9V14"/></svg>
<div class="t" id="t23" style="left:192.90px;top:595.65px;font-size:14.5px;line-height:20px;color:#637381;font-weight:400;letter-spacing:0.154px;transform:scaleX(1.04);transform-origin:0 0;">Type – Capture</div>
<div class="hl" style="left:140.00px;width:749.00px;top:634.00px;height:2px;background:#e4e7ec"></div>
<div class="t" id="t24" style="left:163.90px;top:655.55px;font-size:16.6px;line-height:24px;color:#202223;font-weight:400;letter-spacing:0.000px;transform:scaleX(1.04);transform-origin:0 0;">Charge</div>
<div class="t" id="t25" style="left:224.90px;top:655.55px;font-size:16.6px;line-height:24px;color:#637381;font-weight:400;letter-spacing:0.783px;transform:scaleX(1.04);transform-origin:0 0;">#01996254-2eb3-40fe-954b</div>
<div class="t" id="t26" style="right:560.29px;top:655.55px;font-size:16.6px;line-height:24px;color:#202223;font-weight:400;letter-spacing:0.000px;text-decoration:line-through;letter-spacing:0.2px;transform:scaleX(1.04);transform-origin:100% 0;">$28.75</div>
<svg class="ic" style="left:167.55px;top:694.90px;color:#637381" width="17" height="17" viewBox="0 0 20 20" fill="none" stroke="currentColor" stroke-width="1.35" stroke-linecap="round" stroke-linejoin="round"><rect x="3.75" y="3.75" width="12.5" height="12.5" rx="3"/><path d="M3.75 10.5h2.6c.5 0 .9.3 1.1.7.4.9 1.3 1.6 2.55 1.6s2.15-.7 2.55-1.6c.2-.4.6-.7 1.1-.7h2.6"/></svg>
<div class="t" id="t27" style="left:192.90px;top:693.60px;font-size:14.5px;line-height:20px;color:#637381;font-weight:400;letter-spacing:0.071px;transform:scaleX(1.04);transform-origin:0 0;">Created – 19 Sept 2025, 07:15</div>
<svg class="ic" style="left:167.55px;top:719.05px;color:#637381" width="17" height="17" viewBox="0 0 20 20" fill="none" stroke="currentColor" stroke-width="1.35" stroke-linecap="round" stroke-linejoin="round"><path d="M11.2 16.25H6.75a3 3 0 0 1-3-3v-6.5a3 3 0 0 1 3-3h6.5a3 3 0 0 1 3 3v4.45a3 3 0 0 1-.88 2.12l-2.05 2.05a3 3 0 0 1-2.12.88Z"/><path d="M16 11.6h-2.2a2 2 0 0 0-2 2V16"/><path d="M7 7.6h6M7 10.2h2.5"/></svg>
<div class="t" id="t28" style="left:192.90px;top:717.75px;font-size:14.5px;line-height:20px;color:#637381;font-weight:400;letter-spacing:0.235px;transform:scaleX(1.04);transform-origin:0 0;">Description – Submarine subscription order #1321-002</div>
<svg class="ic" style="left:167.55px;top:743.20px;color:#637381" width="17" height="17" viewBox="0 0 20 20" fill="none" stroke="currentColor" stroke-width="1.35" stroke-linecap="round" stroke-linejoin="round"><circle cx="10" cy="10" r="6.9"/><path d="M10 9.7v3.9"/><circle cx="10" cy="6.5" r=".85" fill="currentColor" stroke="none"/></svg>
<div class="t" id="t29" style="left:192.90px;top:741.90px;font-size:14.5px;line-height:20px;color:#637381;font-weight:400;letter-spacing:0.188px;transform:scaleX(1.04);transform-origin:0 0;">Message – Your card was declined.</div>
<svg class="ic" style="left:167.55px;top:767.35px;color:#637381" width="17" height="17" viewBox="0 0 20 20" fill="none" stroke="currentColor" stroke-width="1.35" stroke-linecap="round" stroke-linejoin="round"><path d="M3.4 9.2c0-1 .3-1.6.9-2.4l1.3-2c.4-.6 1.2-.7 1.7-.2l1 1c.3.3.7.4 1.1.4h1.2c.4 0 .8-.1 1.1-.4l1-1c.5-.5 1.3-.4 1.7.2l1.3 2c.6.8.9 1.4.9 2.4v4.3a2.5 2.5 0 0 1-2.5 2.5H5.9a2.5 2.5 0 0 1-2.5-2.5V9.2Z"/><path d="M6.6 10.6h6.8"/></svg>
<div class="t" id="t30" style="left:192.90px;top:766.05px;font-size:14.5px;line-height:20px;color:#637381;font-weight:400;letter-spacing:0.235px;transform:scaleX(1.04);transform-origin:0 0;">Metadata – <span style="color:#2c6ecb;text-decoration:underline">9 items</span></div>
<svg class="ic" style="left:167.55px;top:791.50px;color:#637381" width="17" height="17" viewBox="0 0 20 20" fill="none" stroke="currentColor" stroke-width="1.35" stroke-linecap="round" stroke-linejoin="round"><path d="M3.9 5.2a2.3 2.3 0 0 1 2.3-2.3h7.6a2.3 2.3 0 0 1 2.3 2.3v12.1l-2.05-1.6-2 1.6-2.05-1.6-2.05 1.6-2-1.6-2.05 1.6V5.2Z"/><path d="m7.3 9.4 1.9 1.9 3.5-3.8"/></svg>
<div class="t" id="t31" style="left:192.90px;top:790.20px;font-size:14.5px;line-height:20px;color:#637381;font-weight:400;letter-spacing:0.167px;transform:scaleX(1.04);transform-origin:0 0;">Record status – Processed</div>
<svg class="ic" style="left:167.55px;top:815.65px;color:#637381" width="17" height="17" viewBox="0 0 20 20" fill="none" stroke="currentColor" stroke-width="1.35" stroke-linecap="round" stroke-linejoin="round"><path d="M9 5.25H6.75a3 3 0 0 0-3 3v5a3 3 0 0 0 3 3h5a3 3 0 0 0 3-3V11"/><path d="M11.75 3.75h4.5v4.5M16 4l-6.5 6.5"/></svg>
<div class="t" id="t32" style="left:192.90px;top:814.35px;font-size:14.5px;line-height:20px;color:#637381;font-weight:400;letter-spacing:0.118px;transform:scaleX(1.04);transform-origin:0 0;">Source – Submarine</div>
<svg class="ic" style="left:167.55px;top:839.80px;color:#c9240c" width="17" height="17" viewBox="0 0 20 20" fill="none" stroke="currentColor" stroke-width="1.4" stroke-linecap="round" stroke-linejoin="round"><path d="M4 7.3 3.1 10.8v4.8a2.6 2.6 0 0 0 2.6 2.6h8.6a2.6 2.6 0 0 0 2.6-2.6v-4.8L16.2 6.9"/><path d="M4 7.3l3-.7 2.2-2.7 1.5 5.8 1.8-2.8h3.7"/><path d="M3.1 10.8h2.8c.6 0 1 .3 1.3.8.6 1 1.5 1.6 2.8 1.6s2.2-.6 2.8-1.6c.3-.5.7-.8 1.3-.8h2.8"/></svg>
<div class="t" id="t33" style="left:192.90px;top:838.50px;font-size:14.5px;line-height:20px;color:#637381;font-weight:400;letter-spacing:0.143px;transform:scaleX(1.04);transform-origin:0 0;"><span style="color:#c9240c;-webkit-text-stroke:0.22px #c9240c">Status</span> – Failed</div>
<svg class="ic" style="left:167.55px;top:863.95px;color:#637381" width="17" height="17" viewBox="0 0 20 20" fill="none" stroke="currentColor" stroke-width="1.35" stroke-linecap="round" stroke-linejoin="round"><circle cx="10" cy="10" r="6.75"/><path d="M12 8.2c-.3-.7-1-1.1-2-1.1-1.2 0-2 .6-2 1.45 0 2 4 .9 4 2.9 0 .85-.8 1.45-2 1.45-1 0-1.7-.4-2-1.1M10 6v1.1M10 12.9V14"/></svg>
<div class="t" id="t34" style="left:192.90px;top:862.65px;font-size:14.5px;line-height:20px;color:#637381;font-weight:400;letter-spacing:0.154px;transform:scaleX(1.04);transform-origin:0 0;">Type – Capture</div>
<div class="hl" style="left:140.00px;width:749.00px;top:901.00px;height:2px;background:#e4e7ec"></div>
<div class="t" id="t35" style="left:163.90px;top:927.55px;font-size:16.6px;line-height:24px;color:#202223;font-weight:400;letter-spacing:0.133px;transform:scaleX(1.04);transform-origin:0 0;">Total passing through Submarine</div>
<div class="t" id="t36" style="right:560.50px;top:927.55px;font-size:16.6px;line-height:24px;color:#202223;font-weight:400;letter-spacing:1.000px;-webkit-text-stroke:0.45px #202223;transform:scaleX(1.04);transform-origin:100% 0;">$0.00</div>
<div class="card" style="left:913.00px;top:-58.00px;width:374.00px;height:106.50px;"></div>
<div class="t" id="t37" style="left:936.90px;top:1.55px;font-size:16.6px;line-height:24px;color:#202223;font-weight:400;letter-spacing:0.133px;transform:scaleX(1.04);transform-origin:0 0;">Expected payment</div>
<div class="t" id="t38" style="right:162.00px;top:1.55px;font-size:16.6px;line-height:24px;color:#202223;font-weight:400;letter-spacing:-0.056px;transform:scaleX(1.04);transform-origin:100% 0;">19 Sept 2025, 07:11</div>
<div class="card" style="left:913.00px;top:68.50px;width:374.00px;height:270.00px;"></div>
<div class="t" id="t39" style="left:936.90px;top:93.50px;font-size:19px;line-height:27px;color:#202223;font-weight:400;letter-spacing:1.000px;-webkit-text-stroke:0.62px #202223;transform:scaleX(1.02);transform-origin:0 0;">Notes</div>
<div class="t" id="t40" style="right:162.00px;top:96.55px;font-size:16.6px;line-height:24px;color:#2c6ecb;font-weight:400;letter-spacing:0.333px;transform:scaleX(1.04);transform-origin:100% 0;">Edit</div>
<div class="t" id="t41" style="left:936.90px;top:146.05px;font-size:16.6px;line-height:24px;color:#637381;font-weight:400;letter-spacing:0.143px;transform:scaleX(1.04);transform-origin:0 0;">No notes</div>
<div class="hl" style="left:913.00px;width:374.00px;top:193.00px;height:2px;background:#e4e7ec"></div>
<div class="t" id="t42" style="left:936.90px;top:221.05px;font-size:16.6px;line-height:24px;color:#202223;font-weight:400;letter-spacing:0.312px;-webkit-text-stroke:0.5px #202223;transform:scaleX(1.09);transform-origin:0 0;">Custom attributes</div>
<div class="t" id="t43" style="right:162.00px;top:221.05px;font-size:16.6px;line-height:24px;color:#919eab;font-weight:400;letter-spacing:0.333px;transform:scaleX(1.04);transform-origin:100% 0;">Edit</div>
<div class="hl" style="left:937.00px;width:326.00px;top:267.00px;height:2px;background:#ebecee"></div>
<div class="cb" style="left:938.40px;top:286.70px"></div>
<div class="t" id="t44" style="left:971.00px;top:286.05px;font-size:16.6px;line-height:24px;color:#202223;font-weight:400;letter-spacing:0.179px;transform:scaleX(1.04);transform-origin:0 0;">Show Submarine attributes (3)</div>
<div class="card" style="left:913.00px;top:358.00px;width:374.00px;height:472.00px;"></div>
<div class="t" id="t45" style="left:936.90px;top:383.50px;font-size:19px;line-height:27px;color:#202223;font-weight:400;letter-spacing:0.571px;-webkit-text-stroke:0.62px #202223;transform:scaleX(1.02);transform-origin:0 0;">Customer</div>
<div class="av" style="left:1224.70px;top:378.40px">HS</div>
<div class="t" id="t46" style="left:936.90px;top:436.05px;font-size:16.6px;line-height:24px;color:#2c6ecb;font-weight:400;letter-spacing:0.083px;transform:scaleX(1.04);transform-origin:0 0;">Homer Simpson</div>
<div class="t" id="t47" style="left:936.90px;top:460.05px;font-size:16.6px;line-height:24px;color:#2c6ecb;font-weight:400;letter-spacing:0.231px;transform:scaleX(1.04);transform-origin:0 0;">1 subscription</div>
<div class="hl" style="left:913.00px;width:374.00px;top:507.00px;height:2px;background:#e4e7ec"></div>
<div class="t" id="t48" style="left:936.90px;top:535.05px;font-size:16.6px;line-height:24px;color:#202223;font-weight:400;letter-spacing:0.278px;-webkit-text-stroke:0.5px #202223;transform:scaleX(1.09);transform-origin:0 0;">Contact information</div>
<div class="t" id="t49" style="right:162.00px;top:535.05px;font-size:16.6px;line-height:24px;color:#919eab;font-weight:400;letter-spacing:0.333px;transform:scaleX(1.04);transform-origin:100% 0;">Edit</div>
<div class="t" id="t50" style="left:936.90px;top:570.05px;font-size:16.6px;line-height:24px;color:#202223;font-weight:400;letter-spacing:0.100px;transform:scaleX(1.04);transform-origin:0 0;">chunkylover53@aol.com</div>
<svg class="ic" style="left:1241.00px;top:571.00px;color:#5c6773" width="20" height="20" viewBox="0 0 20 20" fill="none" stroke="currentColor" stroke-width="1.5" stroke-linejoin="round"><path d="M7.2 4.9H6.3a2 2 0 0 0-2 2v8.3a2 2 0 0 0 2 2h7.4a2 2 0 0 0 2-2V6.9a2 2 0 0 0-2-2h-.9"/><rect x="7.2" y="3.1" width="5.6" height="3.3" rx="1.3"/></svg>
<div class="t" id="t51" style="left:936.90px;top:600.05px;font-size:16.6px;line-height:24px;color:#637381;font-weight:400;letter-spacing:0.143px;transform:scaleX(1.04);transform-origin:0 0;">No phone number</div>
<div class="hl" style="left:913.00px;width:374.00px;top:647.00px;height:2px;background:#e4e7ec"></div>
<div class="t" id="t52" style="left:936.90px;top:675.05px;font-size:16.6px;line-height:24px;color:#202223;font-weight:400;letter-spacing:0.133px;-webkit-text-stroke:0.5px #202223;transform:scaleX(1.09);transform-origin:0 0;">Delivery address</div>
<div class="t" id="t53" style="right:162.00px;top:675.05px;font-size:16.6px;line-height:24px;color:#919eab;font-weight:400;letter-spacing:0.333px;transform:scaleX(1.04);transform-origin:100% 0;">Edit</div>
<div class="t" id="t54" style="left:936.90px;top:710.05px;font-size:16.6px;line-height:24px;color:#202223;font-weight:400;letter-spacing:0.083px;transform:scaleX(1.04);transform-origin:0 0;">Homer Simpson</div>
<div class="t" id="t55" style="left:936.90px;top:734.05px;font-size:16.6px;line-height:24px;color:#202223;font-weight:400;letter-spacing:0.050px;transform:scaleX(1.04);transform-origin:0 0;">742 Evergreen Terrace</div>
<div class="t" id="t56" style="left:936.90px;top:758.05px;font-size:16.6px;line-height:24px;color:#202223;font-weight:400;letter-spacing:0.150px;transform:scaleX(1.04);transform-origin:0 0;">Springfield, OR 97204</div>
<div class="t" id="t57" style="left:936.90px;top:782.05px;font-size:16.6px;line-height:24px;color:#202223;font-weight:400;letter-spacing:0.174px;transform:scaleX(1.04);transform-origin:0 0;">United States of America</div>
<div class="card" style="left:913.00px;top:850.00px;width:374.00px;height:124.50px;"></div>
<div class="t" id="t58" style="left:936.90px;top:875.00px;font-size:19px;line-height:27px;color:#202223;font-weight:400;letter-spacing:0.875px;-webkit-text-stroke:0.62px #202223;transform:scaleX(1.02);transform-origin:0 0;">Discounts</div>
<div class="t" id="t59" style="right:162.00px;top:877.55px;font-size:16.6px;line-height:24px;color:#919eab;font-weight:400;letter-spacing:0.000px;transform:scaleX(1.04);transform-origin:100% 0;">Add</div>
<div class="t" id="t60" style="left:936.90px;top:927.05px;font-size:16.6px;line-height:24px;color:#637381;font-weight:400;letter-spacing:0.273px;transform:scaleX(1.04);transform-origin:0 0;">No discounts</div>
 </div>
 <div id="fade"></div>
</div>
</body></html>
